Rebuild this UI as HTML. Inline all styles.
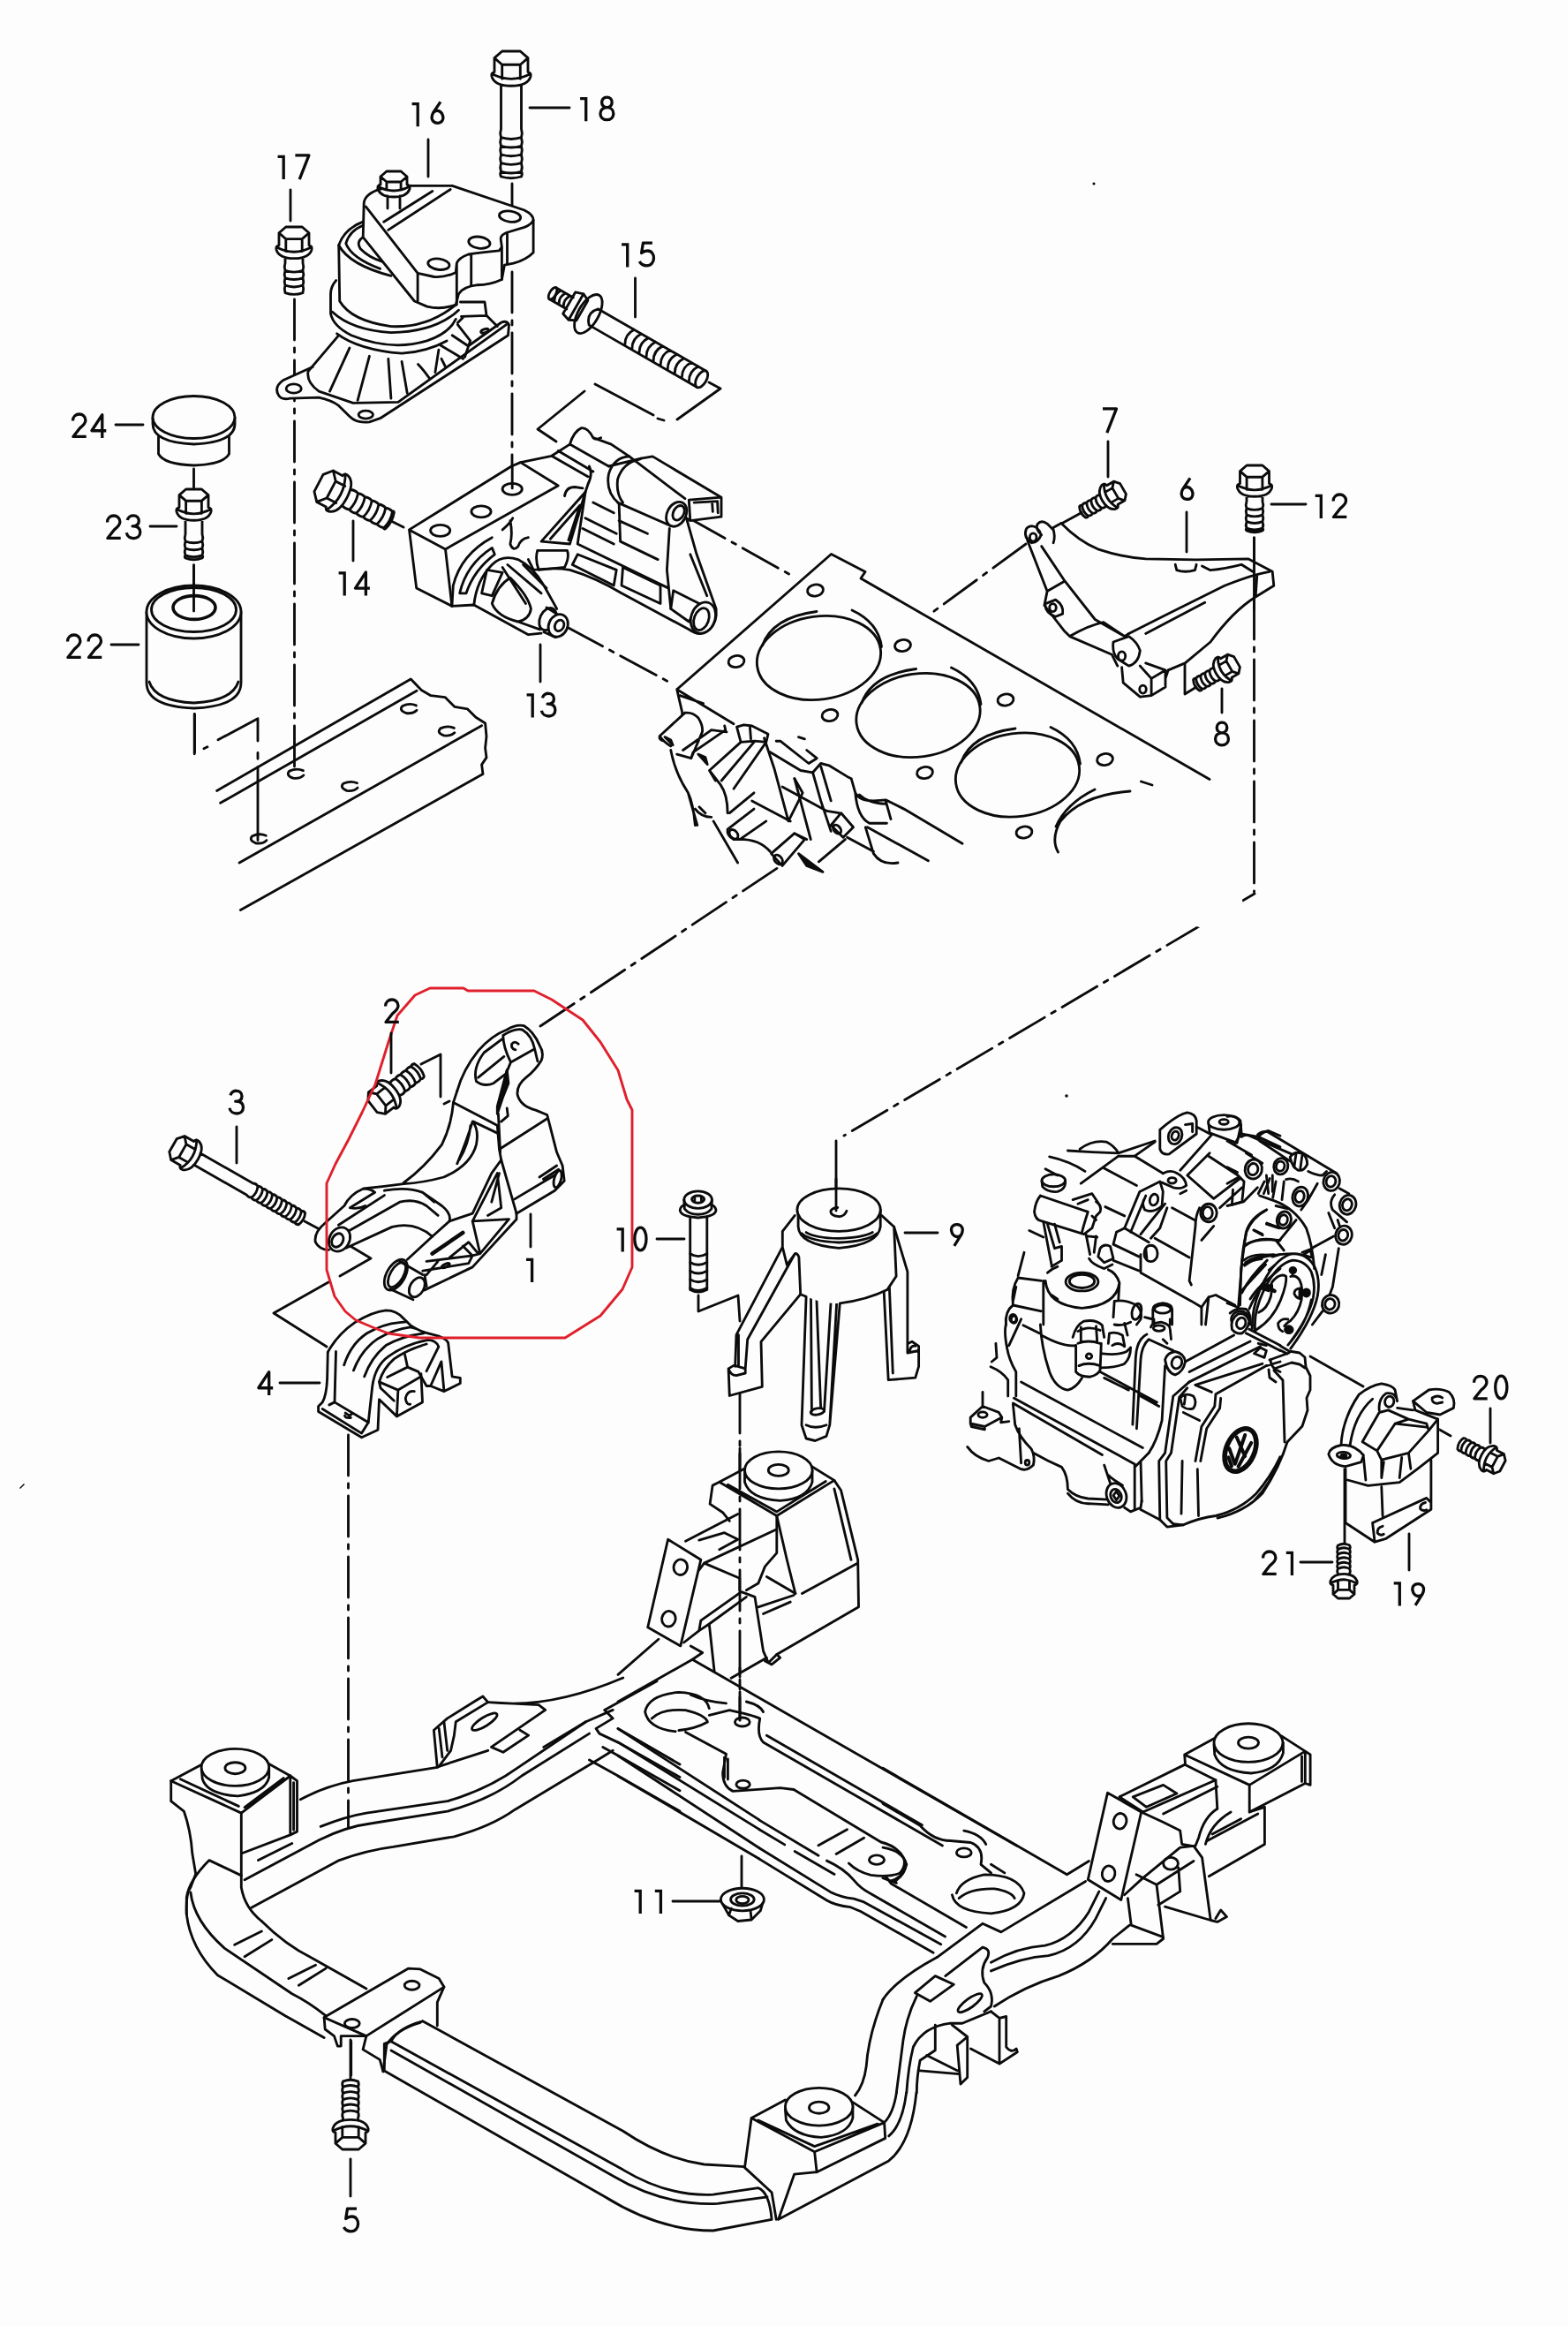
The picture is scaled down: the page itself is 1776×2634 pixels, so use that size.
<!DOCTYPE html>
<html><head><meta charset="utf-8"><title>Engine mounting</title>
<style>
html,body{margin:0;padding:0;background:#fcfdfc;}
body{width:1776px;height:2634px;overflow:hidden;font-family:"Liberation Sans",sans-serif;}
svg{display:block;position:absolute;left:0;top:0}
.k{fill:none;stroke:#0b0b0b;stroke-width:2.85;stroke-linecap:round;stroke-linejoin:round}
.k path,.k line,.k polyline,.k polygon,.k ellipse,.k circle,.k rect{vector-effect:none}
.w{fill:#fcfdfc}
.wf{fill:#fcfdfc;stroke:none}
.fk{fill:#0b0b0b}
.hv{stroke-width:4.5}
.t{fill:none;stroke:#0b0b0b;stroke-width:1.6;stroke-linecap:round;stroke-linejoin:round}
.dd{stroke-dasharray:46 9 5 9}
text{font-family:"Liberation Sans",sans-serif;font-size:40px;fill:#0b0b0b;stroke:none;text-anchor:middle}
</style></head><body>
<svg width="1776" height="2634" viewBox="0 0 1776 2634">
<rect x="0" y="0" width="1776" height="2634" fill="#fcfdfc"/>
<g class="k" id="center">
<path class="dd" d="M333.5,339V872"/>
<path d="M580,208V236"/>
<path class="dd" d="M580,308V552"/>
<path d="M803,433L816,440L767,475M740,470L674,435M662,443L609,486L630,500M752,476L745,474"/>
<path class="dd" d="M781,587L897,652"/>
<path class="dd" d="M1162,616L1054,695"/>
<path class="dd" d="M642,710L757,772"/>
<path class="dd" d="M1420.5,609V1010"/>
<path class="dd" d="M1421,1012L956,1286"/>
<path d="M947,1292V1369"/>
<path class="dd" d="M612,1162L885,980"/>
<path d="M345,1383L360,1391"/>
<path d="M395,1410L420,1425L385,1445M372,1452L310,1487L370,1525"/>
<path class="dd" d="M394.5,1625V2070"/>
<path d="M397,2310V2355"/>
<path d="M791,1467V1485L836,1467L838,1496"/>
<path class="dd" d="M838,1508V1948"/>
<path d="M1484,1536L1544,1570M1523,1653V1747M1627,1617L1643,1626M840,2102V2140"/>
<path d="M1226,580L1204,592M1342,751V786L1355,778M477,1205L499,1194V1242M503,1250L509,1247M443,590L457,597"/>
</g>

<g class="k" id="m16">
<path class="wf" d="M354.1,415.5 L320.4,430.8 Q310.2,438.0 315.3,447.1 Q318.4,453.3 328.6,451.2 L361.2,450.2 Q375.5,453.3 383.7,459.4 L395.9,471.6 Q404.1,479.8 418.4,477.8 L430.6,473.7 L575.5,379.8 L576.5,367.6 Q573.5,362.4 567.3,365.5 L531.6,391.0 L382.7,380.8Z"/>
<path d="M354.1,415.5 L320.4,430.8 Q310.2,438.0 315.3,447.1 Q318.4,453.3 328.6,451.2 L361.2,450.2 Q375.5,453.3 383.7,459.4 L395.9,471.6 Q404.1,479.8 418.4,477.8 L430.6,473.7 L575.5,379.8 L576.5,367.6 Q573.5,362.4 567.3,365.5 L531.6,391.0"/>
<path d="M382.7,380.8 L349.0,420.6 Q346.9,432.9 361.2,443.1 L400.0,456.3 L451.0,455.3 L573.5,367.6"/>
<path d="M395.9,394.1 L373.5,443.1 M418.4,403.3 L405.1,453.3 M439.8,406.3 L442.9,451.2 M455.1,409.4 L461.2,445.1 M473.5,412.4 Q479.6,418.6 486.7,428.8 M496.9,396.1 L492.9,421.6 M500.0,406.3 L504.1,414.5 M499.0,391.0 L524.5,406.3 M512.2,379.8 L530.6,392.0 M518.4,367.6 L532.7,385.9 L526.5,404.3"/>
<path d="M521.4,342.0 L549.0,342.0 L551.0,357.3 L522.4,358.4 M551.0,357.3 L563.3,369.6 M524.5,359.4 L518.4,365.5"/>
<ellipse cx="549.0" cy="374.7" rx="4.5" ry="2.0" transform="rotate(-20 549.0 374.7)"/>
<ellipse cx="332.7" cy="440.0" rx="8.6" ry="5.1"/>
<ellipse cx="414.3" cy="469.6" rx="8.2" ry="4.5"/>
<path class="w" d="M411.2,251.2 Q389.8,259.4 383.7,277.8 L384.7,341.0 Q398.0,363.5 442.9,369.6 Q483.7,371.6 516.3,345.1"/>
<path d="M411.2,255.3 Q395.9,261.4 391.8,275.7 Q398.0,292.0 430.6,304.3 M411.2,268.6 Q403.1,273.7 408.2,281.8 Q418.4,292.0 432.7,296.1 M383.7,277.8 Q395.9,300.2 442.9,312.4"/>
<path d="M380.6,317.6 Q374.5,324.7 374.5,332.9 L374.5,355.3 Q377.6,369.6 398.0,379.8 Q442.9,398.2 483.7,385.9 Q508.2,377.8 516.3,361.4 M376.5,353.3 Q398.0,373.7 442.9,376.7 Q493.9,375.7 519.4,351.2 M381.6,377.8 Q406.1,396.1 455.1,400.2 Q483.7,398.2 506.1,385.9"/>
<path class="w" d="M412.2,229.8 Q413.3,219.6 430.6,214.1 L463.3,210.4 L512.2,210.4 L593.9,238.0 Q604.1,243.1 604.1,249.2 L604.1,285.9 Q595.9,294.1 581.6,298.2 L571.4,300.2 L568.4,316.5 Q555.1,322.7 540.8,322.7 Q524.5,324.7 519.4,332.9 L516.3,345.1 Q500.0,351.2 483.7,347.1 L469.4,341.0 L411.2,268.6Z"/>
<path d="M604.1,249.2 Q602.0,254.3 593.9,257.3 L573.5,263.5 Q566.3,266.5 567.3,271.6 L568.4,279.8 L565.3,283.9 Q544.9,285.9 530.6,288.0 Q519.4,292.0 517.3,298.2 L516.3,308.4 Q504.1,314.5 491.8,313.5 L473.1,309.4 L414.3,233.9 M473.1,309.4 L473.1,341.0 M574.5,264.5 L574.5,298.2 M568.4,279.8 L568.4,316.5 M533.7,288.0 L533.7,322.7 M517.3,298.2 L517.3,345.1 M434.7,251.2 L489.8,216.5 M439.8,260.4 L510.2,214.5"/>
<ellipse cx="577.6" cy="245.1" rx="12.2" ry="6.1" transform="rotate(8 577.6 245.1)"/>
<ellipse cx="542.9" cy="274.7" rx="12.2" ry="6.5" transform="rotate(8 542.9 274.7)"/>
<ellipse cx="496.9" cy="299.2" rx="12.2" ry="6.1" transform="rotate(8 496.9 299.2)"/>
<g transform="translate(446,194) rotate(0.0)"><path class="w" stroke="none" d="M-15.0,6.0L-8.1,0L8.1,0L15.0,6.0V19.0L7.0,27.0V42.0H-7.0V27.0L-15.0,19.0Z"/><path d="M-15.0,6.0L-8.1,0L8.1,0L15.0,6.0L8.1,12.0L-8.1,12.0ZM-15.0,6.0V15.0M-8.1,12.0V21.0M8.1,12.0V21.0M15.0,6.0V15.0M-15.0,15.0Q-19.0,16.0 -18.0,20.0Q-15.0,29.0 0,29.0Q15.0,29.0 18.0,20.0Q19.0,16.0 15.0,15.0M-18.0,17.0Q0,27.0 18.0,17.0M-7.0,28.0V42.0M7.0,28.0V42.0"/></g>
</g>
<g class="k" id="left">
<path class="w" d="M179.5,495V514Q186,526 219.5,527Q253,526 259.5,514V495"/>
<path class="w" d="M173,473V480Q173,501 219.5,503Q266,501 266,480V473"/>
<ellipse class="w" cx="219.5" cy="472.5" rx="46.5" ry="24"/>
<path d="M219.5,531V552M219.5,640V690M220.5,809V852"/>
<path class="w" d="M166,693V773Q166,800 219.5,802Q273,800 273,773V693"/>
<ellipse class="w" cx="219.5" cy="693" rx="53.5" ry="30"/>
<ellipse cx="219.5" cy="690.5" rx="48" ry="25"/>
<ellipse cx="220" cy="688" rx="24" ry="13.4" style="stroke-width:3.6"/>
<path d="M169,772Q176,794 219.5,796Q263,794 270,772"/>
<path d="M219.5,640V692"/>
<path d="M245.6,895.4 L465.3,768.9 L477.3,781.5 L488.0,787.7 L504.1,789.6 L514.8,800.3 L529.6,802.9 L538.9,812.3 L549.6,819.0 L551.0,833.8 L549.6,847.1 L551.0,857.9 L545.6,865.9 L547.0,876.6 L272.4,1030.6 M249.6,909.3 L472.0,782.3 M271.1,977.1 L545.6,821.7"/>
<path d="M292.0,951.6 L292.0,868.6 M292.0,859.2 L292.0,852.5 M292.0,839.1 L292.0,813.7 L247.0,837.8 M234.9,845.8 L230.9,847.7 M220.2,808.3 L220.2,853.8"/>
<path d="M471.4,798.9 Q463.9,795.7 455.9,799.5 Q451.3,804.3 459.9,807.5 Q467.9,808.6 472.0,804.3"/>
<path d="M514.3,824.4 Q506.8,821.2 498.8,824.9 Q494.2,829.7 502.8,832.9 Q510.8,834.0 514.8,829.7"/>
<path d="M404.5,886.8 Q397.0,883.6 388.9,887.3 Q384.4,892.1 392.9,895.4 Q401.0,896.4 405.0,892.1"/>
<path d="M343.4,872.6 Q335.9,869.4 327.9,873.1 Q323.3,877.9 331.9,881.2 Q339.9,882.2 343.9,877.9"/>
<path d="M301.3,946.3 Q293.8,943.0 285.8,946.8 Q281.3,951.6 289.8,954.8 Q297.9,955.9 301.9,951.6"/>
</g>
<g class="k" id="m13">
<path class="wf" d="M463.5,599.9 L579.3,528.0 L589.6,523.6 L624.8,516.3 L645.4,503.1 Q649.8,488.4 658.6,484.6 Q665.9,484.0 671.8,495.7 L692.3,503.1 L712.8,516.9 L726.0,519.2 L739.2,516.9 L817.0,563.2 L817.0,585.2 L781.8,589.6 L811.1,689.4 Q812.6,704.0 803.8,712.8 L795.0,717.2 L780.3,712.8 L704.0,671.8 Q674.7,654.2 645.4,645.4 L627.8,689.4 L642.4,704.0 L633.6,721.6 L613.1,717.2 L598.4,718.7 L536.8,685.0 L511.9,686.4 L471.7,665.9Z"/>
<path d="M463.5,599.9 L579.3,528.0 L589.6,523.6 L632.2,550.0 L504.5,621.9 Z M463.5,599.9 L471.7,665.9 L511.9,686.4 L504.5,621.9"/>
<ellipse cx="498.7" cy="600.8" rx="11.1" ry="6.5"/>
<ellipse cx="545.0" cy="579.3" rx="11.1" ry="6.5"/>
<ellipse cx="580.2" cy="553.8" rx="11.1" ry="6.5"/>
<path d="M511.9,686.4 L513.3,663.0 Q522.1,627.8 557.3,608.7 M520.7,671.8 Q528.0,639.5 557.3,620.4 L560.3,627.8 Q536.8,645.4 528.0,671.8 Z M511.9,686.4 L536.8,685.0 L598.4,718.7 L613.1,717.2"/>
<path d="M536.8,685.0 Q539.7,657.1 557.3,639.5 Q569.1,627.8 586.7,633.6 Q604.3,642.4 616.0,663.0 L630.7,689.4 M569.1,642.4 L595.5,683.5 M574.9,639.5 L613.1,671.8 M592.6,639.5 L619.0,665.9 M557.3,683.5 Q563.2,698.2 586.7,704.0 Q599.9,701.1 601.4,689.4 Q598.4,674.7 577.9,654.2 Q563.2,663.0 557.3,683.5 M545.6,671.8 L551.5,645.4 L569.1,648.3 L557.3,674.7 Z M586.7,704.0 L611.6,712.8"/>
<ellipse cx="620.4" cy="701.1" rx="8.8" ry="13.2" transform="rotate(25 620.4 701.1)" class="w"/>
<path d="M619.0,687.9 L630.7,695.2 M616.0,715.8 L629.2,721.6"/>
<ellipse cx="632.2" cy="708.4" rx="10.6" ry="13.2" transform="rotate(25 632.2 708.4)" class="w"/>
<ellipse cx="633.6" cy="708.4" rx="5.0" ry="6.5" transform="rotate(25 633.6 708.4)"/>
<path d="M589.6,523.6 L624.8,516.3 L645.4,503.1 Q649.8,488.4 658.6,484.6 Q665.9,484.0 671.8,495.7 L692.3,503.1 L712.8,516.9 M624.8,516.3 L665.9,539.7 M632.2,510.4 L671.8,533.9 M645.4,503.1 L689.4,528.0 M667.4,528.0 Q671.8,536.8 665.9,548.5 L663.0,557.3 M639.5,561.7 Q641.0,551.5 651.2,551.5 L660.0,552.9 M671.8,495.7 Q674.7,498.7 680.6,495.7"/>
<path d="M569.1,599.9 Q577.9,592.6 580.8,586.7 M577.9,589.6 Q580.8,604.3 577.9,616.0 Q580.8,624.8 586.7,619.0 Q589.6,610.2 598.4,608.7"/>
<path d="M613.1,613.1 L663.0,557.3 L645.4,616.0 Z M623.4,610.2 L657.1,572.0 L643.9,611.6 M608.7,623.4 L642.4,623.4 Q645.4,630.7 639.5,642.4 L610.2,645.4 Q605.8,633.6 608.7,623.4 M654.2,627.8 L698.2,645.4 L695.2,663.0 L648.3,639.5 Z M705.5,642.4 L748.0,663.0 L748.0,683.5 L704.0,663.0 Z M762.7,668.8 L792.0,683.5 L780.3,704.0 L759.8,689.4 Z"/>
<path d="M663.0,557.3 L654.2,616.0 L756.8,665.9 M671.8,569.1 L695.2,580.8 M663.0,586.7 L698.2,604.3 M660.0,598.4 L695.2,616.0 M701.1,569.1 L702.6,613.1 L745.1,633.6 M701.1,589.6 L733.4,604.3 M758.3,598.4 L755.4,645.4 L759.8,689.4 M604.3,645.4 Q627.8,642.4 645.4,645.4 Q674.7,654.2 704.0,671.8 L780.3,712.8 Q789.1,718.7 795.0,717.2 M598.4,633.6 L604.3,645.4"/>
<path d="M777.4,586.7 L789.1,627.8 L811.1,689.4 Q812.6,704.0 803.8,712.8 M781.8,627.8 L800.8,674.7"/>
<ellipse cx="796.4" cy="699.6" rx="13.5" ry="18.2" transform="rotate(20 796.4 699.6)" class="w"/>
<ellipse cx="794.4" cy="701.1" rx="8.2" ry="12.9" transform="rotate(20 794.4 701.1)"/>
<path class="wf" d="M712.8,516.9 L775.9,564.7 L759.8,595.5 L699.6,569.1 Q685.0,557.3 688.8,536.8 Q695.2,517.7 712.8,516.9 Z"/>
<path d="M712.8,516.9 L775.9,564.7 M699.6,569.1 L759.8,595.5 M689.4,528.0 L726.0,519.2 M712.8,516.9 Q695.2,517.7 689.4,536.8 Q685.8,557.3 700.5,569.7 M725.2,519.8 Q705.5,523.6 699.6,542.7 Q697.6,558.8 705.5,569.1"/>
<ellipse cx="766.2" cy="582.3" rx="10.6" ry="14.7" transform="rotate(28 766.2 582.3)" class="w"/>
<ellipse cx="768.6" cy="580.8" rx="5.9" ry="8.8" transform="rotate(28 768.6 580.8)"/>
<path d="M726.0,519.2 L739.2,516.9 L817.0,563.2 L817.0,585.2 L781.8,589.6 L780.3,566.1 L817.0,563.2 M786.2,569.1 L812.6,567.6 L813.2,580.8 M806.7,570.5 L807.3,579.3 M781.8,589.6 L777.4,586.7"/>
<path d="M580.2,552.9 L580.2,528.0"/>
</g>
<g class="k" id="m6">
<path class="wf" d="M1163.8,599.4 L1202.0,592.4 Q1221.2,612.2 1243.5,621.8 Q1272.2,631.3 1297.7,632.9 L1355.1,633.9 L1414.1,632.9 L1441.2,647.3 L1442.8,663.2 L1422.1,676.0 Q1396.6,691.9 1371.0,727.0 L1342.3,750.9 L1320.0,778.0 L1291.3,789.2 L1272.2,773.2 L1259.4,741.3 L1205.2,714.2 L1182.9,685.5 L1186.1,669.6 Z"/>
<path d="M1202.0,592.4 Q1221.2,612.2 1243.5,621.8 Q1272.2,631.3 1297.7,632.9 L1355.1,633.9 L1414.1,632.9 L1441.2,647.3 L1442.8,663.2 L1422.1,676.0 Q1396.6,691.9 1371.0,727.0 L1342.3,750.9 L1323.2,758.9 M1423.7,652.1 L1422.1,676.0 M1278.6,717.4 L1323.2,695.1 L1387.0,663.2 Q1418.9,650.5 1438.0,647.3 M1297.7,717.4 L1364.7,682.3"/>
<path d="M1331.2,639.3 L1332.8,645.7 Q1342.3,648.9 1353.5,645.7 L1355.1,639.3 M1361.5,640.9 L1371.0,645.7 Q1387.0,644.1 1406.1,639.3 L1418.9,647.3"/>
<path d="M1163.8,612.2 L1186.1,669.6 L1182.9,685.5 L1205.2,714.2 L1211.6,720.6 L1259.4,741.3 L1265.8,754.1 M1179.7,618.6 L1205.2,656.8 L1240.3,701.5 L1273.8,720.6 L1278.6,717.4 M1186.1,669.6 L1205.2,658.4 M1211.6,720.6 Q1233.9,707.9 1249.9,704.7 L1273.8,720.6"/>
<path d="M1202.0,592.4 L1192.5,597.8 Q1195.7,607.4 1193.1,614.7 M1174.9,593.7 Q1179.7,588.3 1186.1,593.1 L1192.5,599.4 M1162.2,599.4 Q1159.0,609.0 1168.6,614.7 Q1176.5,613.8 1179.1,605.8 Q1176.5,596.2 1168.6,595.6 Q1163.8,596.2 1162.2,599.4 M1174.9,593.7 Q1172.7,599.4 1179.7,605.8"/>
<ellipse cx="1170.2" cy="608.4" rx="3.8" ry="4.5"/>
<path d="M1183.5,683.9 Q1184.5,695.1 1195.7,698.3 L1203.6,695.1 Q1205.2,685.5 1195.7,679.2 Z"/>
<ellipse cx="1192.5" cy="688.1" rx="3.8" ry="4.5"/>
<path class="w" d="M1261.0,727.0 Q1259.4,739.7 1265.8,746.1 L1278.6,754.1 Q1289.7,750.9 1291.3,736.6 Q1288.1,727.0 1278.6,720.6 Z"/>
<ellipse cx="1270.6" cy="742.9" rx="4.1" ry="5.1"/>
<path d="M1270.6,755.7 L1272.2,773.2 L1291.3,789.2 L1304.1,787.6 L1320.0,778.0 L1320.0,758.9 L1297.7,750.9 M1291.3,754.1 L1304.1,768.4 L1320.0,758.9 M1304.1,768.4 L1304.1,787.6 M1323.2,758.9 L1320.0,768.4"/>
<ellipse cx="1294.5" cy="780.6" rx="3.8" ry="4.5"/>
</g>
<g class="k" id="block">
<path class="wf" d="M941.5,627.5 L980.0,647.5 L975.0,655.0 L1370.0,882.5 L1420.0,1067.5 L1140.0,987.5 L965.0,895.0 L767.5,780.0Z"/>
<path d="M767.5,780.0 L941.5,627.5 L980.0,647.5 L975.0,655.0 L1370.0,882.5"/>
<ellipse cx="927.5" cy="745.0" rx="70.5" ry="47.0" transform="rotate(-8 927.5 745.0)"/>
<path d="M863.5,731.0 Q875.0,699.0 925.0,692.5 M965.0,691.0 Q995.0,705.0 998.5,732.5"/>
<ellipse cx="1040.0" cy="810.0" rx="70.5" ry="47.0" transform="rotate(-8 1040.0 810.0)"/>
<path d="M976.0,796.0 Q987.5,764.0 1037.5,757.5 M1077.5,756.0 Q1107.5,770.0 1111.0,797.5"/>
<ellipse cx="1152.5" cy="877.5" rx="70.5" ry="47.0" transform="rotate(-8 1152.5 877.5)"/>
<path d="M1088.5,863.5 Q1100.0,831.5 1150.0,825.0 M1190.0,823.5 Q1220.0,837.5 1223.5,865.0"/>
<path d="M1280.0,896.0 Q1225.0,900.0 1201.0,930.0 Q1190.0,950.0 1198.5,965.0 M1240.0,894.0 Q1207.5,910.0 1196.0,936.0 M1292.5,885.0 L1305.0,889.0"/>
<ellipse cx="923.5" cy="668.5" rx="9.0" ry="6.5" transform="rotate(-10 923.5 668.5)"/>
<ellipse cx="1022.5" cy="731.0" rx="9.0" ry="6.5" transform="rotate(-10 1022.5 731.0)"/>
<ellipse cx="1139.0" cy="792.5" rx="9.0" ry="6.5" transform="rotate(-10 1139.0 792.5)"/>
<ellipse cx="1251.5" cy="860.0" rx="9.0" ry="6.5" transform="rotate(-10 1251.5 860.0)"/>
<ellipse cx="834.0" cy="749.0" rx="9.0" ry="6.5" transform="rotate(-10 834.0 749.0)"/>
<ellipse cx="940.0" cy="810.0" rx="9.0" ry="6.5" transform="rotate(-10 940.0 810.0)"/>
<ellipse cx="1047.5" cy="875.0" rx="9.0" ry="6.5" transform="rotate(-10 1047.5 875.0)"/>
<ellipse cx="1160.0" cy="942.5" rx="9.0" ry="6.5" transform="rotate(-10 1160.0 942.5)"/>
<path d="M766.7,780.7 L831.0,819.7 M770.2,787.6 L796.6,796.7 M766.7,780.7 L772.5,805.9"/>
<path d="M772.5,808.2 Q782.8,804.8 790.8,812.8 Q796.6,822.0 795.4,828.9 M775.9,807.1 L747.2,833.5 M795.4,828.9 L782.8,858.7 M747.2,833.5 Q751.8,840.4 759.8,844.9 M766.7,854.1 L782.8,858.7 L785.1,851.8 M773.6,849.5 L805.8,826.6 M785.1,851.8 L821.8,826.6 L820.7,822.0 M805.8,826.6 L823.0,828.9 M747.2,833.5 Q746.1,838.1 751.8,839.2"/>
<path class="fk" d="M753.0,834.6 L759.8,838.1 L762.1,843.8 Z"/>
<path class="fk" d="M790.8,854.1 L798.9,857.6 L801.2,865.6 Z"/>
<path d="M759.8,849.5 Q764.4,874.8 779.4,897.8 Q785.1,909.2 787.4,934.5 M779.4,897.8 L789.7,934.5 M787.4,916.1 Q794.3,925.3 805.8,925.3 M792.0,913.8 L798.9,920.7 M808.1,929.9 L835.6,977.0"/>
<path d="M834.5,823.1 L842.5,820.8 L851.7,822.0 L870.0,831.2 L867.8,840.4 L855.1,839.2 L839.1,840.4 Z M849.4,823.1 L850.5,836.9 M839.1,840.4 L803.5,872.5 L816.1,888.6 M855.1,839.2 L817.2,884.0 M867.8,840.4 L831.0,893.2 M803.5,872.5 L810.4,884.0 M816.1,888.6 Q824.1,900.0 824.1,920.7 M826.4,920.7 L854.0,897.8"/>
<path d="M865.5,835.8 L876.9,870.2 L893.0,929.9 L909.1,897.8 L899.9,881.7 M879.2,839.2 L883.8,839.2 L916.0,864.5 L925.2,858.7 L913.7,849.5 M904.5,834.6 L911.4,836.9"/>
<path d="M872.3,851.8 L906.8,872.5 L920.6,874.8 L929.7,864.5 L938.9,866.8 L959.6,879.4 L964.2,881.7 L968.8,897.8 Q973.4,906.9 989.4,906.9 L1003.2,905.8 L1023.9,916.1 L1090.0,955.2 M1003.2,906.9 L1009.0,927.6 M973.4,900.0 Q982.5,909.2 1003.2,910.4 M968.8,897.8 Q971.1,925.3 984.8,932.2 L1004.4,932.2"/>
<path d="M920.6,874.8 L929.7,906.9 L941.2,941.4 M929.7,867.9 L941.2,906.9 M886.1,890.9 L936.6,918.4 L950.4,920.7 M899.9,881.7 L918.3,950.6 M851.7,906.9 L895.3,929.9"/>
<path d="M824.1,939.1 L854.0,916.1 M837.9,950.6 L867.8,929.9 M831.0,950.6 Q858.6,948.3 872.3,964.3 M824.1,939.1 Q823.0,946.0 831.0,950.6"/>
<ellipse cx="831.0" cy="944.8" rx="4.1" ry="6.0" transform="rotate(-40 831.0 944.8)"/>
<path class="w" d="M873.5,966.6 L899.9,943.7 L911.4,950.6 L886.1,980.4 Z M899.9,943.7 L913.7,950.6"/>
<ellipse cx="881.5" cy="973.5" rx="4.1" ry="6.0" transform="rotate(-40 881.5 973.5)"/>
<path class="fk" d="M904.5,966.6 L932.0,987.3 L913.7,980.4 Z"/>
<path d="M927.4,975.8 L957.3,950.6 M941.2,934.5 L952.7,920.7 L966.5,936.8 L955.0,948.3 Z M959.6,948.3 L989.4,964.3 M980.3,936.8 L989.4,966.6 Q998.6,980.4 1017.0,977.0 M982.5,936.8 L1051.4,974.7"/>
<ellipse cx="948.1" cy="939.1" rx="3.7" ry="5.5" transform="rotate(-40 948.1 939.1)"/>
</g>
<g class="k" id="m1">
<path class="wf" d="M517.8,1235.4 Q524.3,1211.6 541.7,1189.9 Q556.8,1172.5 574.2,1166.0 Q585.0,1159.5 593.7,1161.7 Q604.5,1168.2 611.0,1183.4 Q616.5,1192.0 613.2,1200.7 Q606.7,1211.6 595.9,1220.2 Q585.0,1228.9 586.1,1239.7 Q589.4,1252.8 606.7,1257.1 L619.7,1262.5 L630.6,1304.8 L637.1,1320.0 L639.2,1337.3 L628.4,1348.2 L585.0,1374.2 L585.0,1380.7 L535.2,1434.9 L480.9,1460.9 L470.1,1469.6 L452.8,1467.4 Q437.6,1460.9 437.6,1443.6 L461.4,1426.2 L489.6,1400.2 Q470.1,1382.9 444.1,1389.4 L392.0,1413.2 L372.5,1415.4 Q361.7,1415.4 357.3,1406.7 Q355.2,1395.9 368.2,1385.0 L389.9,1365.5 Q396.4,1352.5 411.6,1346.0 L457.1,1339.5 Q480.9,1322.1 500.5,1296.1 Q511.3,1274.4 513.5,1248.4Z"/>
<path d="M517.8,1235.4 Q524.3,1211.6 541.7,1189.9 Q556.8,1172.5 574.2,1166.0 Q585.0,1159.5 593.7,1161.7 Q604.5,1168.2 611.0,1183.4 Q616.5,1192.0 613.2,1200.7 Q606.7,1211.6 595.9,1220.2 Q585.0,1228.9 586.1,1239.7 Q589.4,1252.8 606.7,1257.1 L619.7,1262.5 L630.6,1304.8 L637.1,1320.0 L639.2,1337.3 L628.4,1348.2 L585.0,1374.2"/>
<path d="M569.8,1172.5 Q582.9,1163.9 591.5,1166.0 Q602.4,1172.5 605.6,1187.7 L578.5,1202.9 Q569.8,1185.5 569.8,1172.5 M605.6,1187.7 L608.9,1201.8 M548.2,1192.0 Q535.2,1209.4 539.5,1224.6 Q548.2,1231.1 559.0,1226.7 L573.1,1215.9 L578.5,1202.9 M548.2,1192.0 L569.8,1175.8 M541.7,1220.2 L570.9,1196.4"/>
<path d="M587.2,1182.3 Q582.9,1177.9 579.6,1182.3 Q578.5,1187.7 583.9,1188.8"/>
<path d="M517.8,1235.4 L513.5,1248.4 L563.3,1274.4 M565.5,1301.5 L619.7,1266.8 M563.3,1274.4 L565.5,1301.5 L567.7,1313.5 L585.0,1374.2"/>
<path class="fk" d="M574.2,1211.6 L563.3,1252.8 L563.3,1261.4 L569.8,1241.9 L575.9,1226.7 Z"/>
<path d="M574.2,1254.9 L575.3,1263.6 L567.7,1270.1 M564.4,1261.4 L566.6,1304.8"/>
<path d="M611.0,1333.0 L630.6,1320.0 M615.4,1335.2 L632.7,1324.3 M582.9,1357.9 L628.4,1330.8"/>
<ellipse cx="631.6" cy="1335.2" rx="3.9" ry="9.8" transform="rotate(15 631.6 1335.2)"/>
<path d="M513.5,1248.4 Q511.3,1274.4 500.5,1296.1 Q480.9,1322.1 457.1,1339.5 M535.2,1270.1 Q542.7,1278.8 539.5,1296.1 Q533.0,1320.0 502.6,1333.0 Q478.8,1339.5 457.1,1340.6 M536.2,1270.1 L563.3,1283.1 M535.2,1270.1 Q528.6,1291.8 517.8,1317.8 M533.0,1274.4 Q530.8,1296.1 520.0,1313.5"/>
<path d="M457.1,1340.6 Q433.2,1343.8 411.6,1346.0 Q396.4,1352.5 389.9,1365.5 L368.2,1385.0 Q355.2,1395.9 357.3,1406.7 Q361.7,1415.4 372.5,1415.4 M411.6,1346.0 Q420.2,1346.0 424.6,1350.3 L396.4,1367.7 Q405.1,1369.8 413.7,1365.5 M435.4,1348.2 Q461.4,1343.8 478.8,1350.3 L500.5,1365.5 Q511.3,1374.2 509.1,1382.9 L489.6,1400.2 M383.4,1387.2 L435.4,1353.6 M395.3,1393.7 L452.8,1361.2 Q470.1,1356.8 483.1,1365.5 L496.1,1376.4 M392.0,1413.2 L444.1,1389.4 Q470.1,1382.9 489.6,1400.2 M478.8,1350.3 L491.8,1361.2"/>
<ellipse cx="384.5" cy="1403.5" rx="11.3" ry="14.3" transform="rotate(30 384.5 1403.5)" class="w"/>
<ellipse cx="382.3" cy="1404.5" rx="6.1" ry="8.2" transform="rotate(30 382.3 1404.5)"/>
<path d="M489.6,1400.2 L461.4,1426.2 M480.9,1460.9 L535.2,1434.9 L585.0,1380.7 L585.0,1374.2 M480.9,1443.6 L483.1,1456.6"/>
<ellipse cx="448.4" cy="1443.6" rx="10.4" ry="19.1" transform="rotate(30 448.4 1443.6)" class="w"/>
<ellipse cx="449.5" cy="1443.6" rx="7.4" ry="15.6" transform="rotate(30 449.5 1443.6)"/>
<path d="M452.8,1428.4 L478.8,1443.6 M441.9,1459.8 L467.9,1471.8"/>
<ellipse cx="472.3" cy="1457.7" rx="7.8" ry="11.9" transform="rotate(30 472.3 1457.7)" class="w"/>
<path d="M509.1,1382.9 L535.2,1374.2 L556.8,1328.6 L567.7,1313.5 M535.2,1382.9 L576.4,1380.7 M535.2,1382.9 L543.8,1419.7 L576.4,1380.7 M535.2,1382.9 L563.3,1328.6 L567.7,1367.7 L552.5,1376.4 M556.8,1361.2 L565.5,1328.6 M483.1,1428.4 L535.2,1421.9 L543.8,1419.7 M509.1,1424.1 L530.8,1406.7 L541.7,1419.7 M478.8,1439.2 L530.8,1430.6 L535.2,1421.9 M524.3,1411.0 L535.2,1421.9 M496.1,1428.4 L483.1,1443.6"/>
<path class="hv" d="M489.6,1419.7 L524.3,1395.9"/>
<ellipse cx="504.8" cy="1433.2" rx="4.8" ry="1.7" transform="rotate(-25 504.8 1433.2)"/>
</g>
<g class="k" id="m4">
<path class="wf" d="M371.3,1531.2 Q382.0,1511.3 401.9,1497.6 Q421.8,1485.3 437.1,1483.8 Q449.4,1483.8 457.0,1493.0 L464.7,1500.6 Q475.4,1508.3 490.7,1511.3 Q504.5,1514.4 507.6,1520.5 L512.1,1558.8 L521.3,1560.3 L521.3,1566.4 L503.0,1575.6 L487.7,1569.5 L478.5,1587.9 L449.4,1603.9 L429.5,1584.8 L428.0,1619.2 L409.6,1627.7 L360.6,1598.6 L360.6,1592.4 L365.2,1587.9 Q369.8,1580.2 370.6,1561.8Z"/>
<path d="M371.3,1531.2 Q382.0,1511.3 401.9,1497.6 Q421.8,1485.3 437.1,1483.8 Q449.4,1483.8 457.0,1493.0 L464.7,1500.6 Q475.4,1508.3 490.7,1511.3 Q504.5,1514.4 507.6,1520.5 L512.1,1558.8 L521.3,1560.3 L521.3,1566.4 L503.0,1575.6 L487.7,1569.5 L499.9,1541.9 L503.0,1575.6"/>
<path d="M371.3,1531.2 L370.6,1561.8 Q369.8,1580.2 365.2,1587.9 L360.6,1592.4 L360.6,1598.6 L409.6,1627.7 L428.0,1619.2 L429.5,1584.8 L449.4,1603.9 L478.5,1587.9 L476.9,1555.7"/>
<path d="M380.5,1530.5 L379.0,1587.9 L417.2,1610.8 L409.6,1623.1 L365.2,1595.5 M372.9,1590.9 L379.0,1587.9 M391.2,1600.1 L395.8,1603.2 L398.9,1600.9 M390.5,1603.2 Q391.2,1606.2 397.3,1605.5"/>
<path d="M417.2,1610.8 L421.8,1569.5 Q424.9,1546.5 440.2,1535.8 Q460.1,1522.0 484.6,1517.4 Q493.8,1517.4 496.8,1525.1 L483.1,1552.7"/>
<path d="M389.7,1545.8 Q397.3,1522.0 415.7,1509.8 Q434.1,1499.1 452.4,1497.6 L460.1,1496.8 M400.4,1551.9 Q409.6,1528.2 428.0,1515.9 Q446.3,1505.2 464.7,1502.9 L470.8,1504.4 M412.7,1558.8 Q420.3,1537.3 437.1,1523.6 Q455.5,1512.9 480.0,1509.8 M429.5,1564.9 Q434.1,1549.6 446.3,1538.9 Q461.6,1528.2 483.1,1522.0"/>
<path d="M429.5,1564.9 L450.9,1574.1 L476.9,1558.8 L473.9,1553.4 L461.6,1548.1 L438.7,1559.5 M450.9,1574.1 L449.4,1603.9 M429.5,1564.9 L431.0,1571.8 L446.3,1586.3 M461.6,1548.1 L458.6,1534.3 M469.3,1575.6 Q461.6,1574.1 459.3,1583.3 Q460.1,1590.9 464.7,1590.2 M476.9,1558.8 L483.1,1569.5 L487.7,1569.5"/>
</g>
<g class="k" id="m9">
<path class="wf" d="M886.3,1412.1 L834.0,1511.6 L832.7,1547.3 L825.1,1549.9 L826.3,1580.5 L863.3,1570.3 L862.0,1519.3 L906.7,1465.7 L913.1,1468.3 L908.0,1613.7 L913.1,1629.0 L923.3,1631.5 L936.0,1626.4 L939.8,1613.7 L951.3,1475.9 L1001.1,1460.6 L1006.2,1562.7 L1036.8,1560.1 L1040.6,1547.3 L1040.6,1524.4 L1033.0,1519.3 L1027.9,1521.8 L1027.9,1440.2 L1012.6,1389.2 L998.5,1376.4 L900.3,1376.4 Z"/>
<path d="M886.3,1412.1 L834.0,1511.6 L832.7,1547.3 M900.3,1419.8 L846.7,1516.7 L844.2,1549.9 M906.7,1465.7 L862.0,1519.3 L863.3,1570.3 L826.3,1580.5 L825.1,1549.9 L831.4,1546.1 L844.2,1549.9 L844.2,1555.0 L834.0,1557.6 M825.1,1549.9 Q827.6,1557.6 834.0,1557.6 M836.5,1511.6 L836.5,1547.3"/>
<path d="M913.1,1468.3 L908.0,1613.7 L913.1,1629.0 L923.3,1631.5 L936.0,1626.4 L939.8,1613.7 L951.3,1475.9 M918.2,1428.7 L919.4,1598.4 M923.3,1428.7 L929.6,1593.3 M943.7,1431.3 L933.5,1598.4 M950.1,1432.6 L939.8,1613.7 M913.1,1613.7 Q923.3,1618.8 936.0,1613.7"/>
<ellipse cx="925.8" cy="1598.4" rx="7.7" ry="3.6" transform="rotate(-10 925.8 1598.4)"/>
<path d="M1012.6,1389.2 L1027.9,1440.2 L1027.9,1532.0 M1001.1,1460.6 L1006.2,1562.7 L1036.8,1560.1 L1040.6,1547.3 L1040.6,1524.4 L1033.0,1519.3 L1027.9,1521.8 M1007.4,1458.1 L1011.3,1555.0 M1027.9,1532.0 L1040.6,1529.5 M1030.4,1529.5 Q1031.7,1523.1 1036.8,1524.4"/>
<path class="wf" d="M900.3,1376.4 L886.3,1394.3 L886.3,1412.1 L891.4,1432.6 L900.3,1419.8 L904.1,1422.3 L906.7,1465.7 L913.1,1468.3 Q933.5,1477.2 951.3,1475.9 Q981.9,1472.1 1004.9,1460.6 L1015.1,1445.3 L1012.6,1389.2 L998.5,1376.4 Z"/>
<path d="M900.3,1376.4 L886.3,1394.3 L886.3,1412.1 L891.4,1432.6 L900.3,1419.8 Q902.9,1418.5 904.9,1423.6 L906.7,1465.7 L913.1,1468.3 M951.3,1475.9 Q981.9,1472.1 1004.9,1460.6 L1015.1,1445.3 L1012.6,1389.2 L998.5,1376.4"/>
<path class="w" d="M904.1,1370.1 L904.1,1389.2 Q905.4,1409.6 950.1,1413.4 Q994.7,1409.6 997.2,1389.2 L997.2,1370.1"/>
<path d="M908.0,1396.8 Q918.2,1405.8 950.1,1407.0 Q981.9,1405.8 993.4,1396.8 M913.1,1395.6 Q923.3,1401.9 950.1,1402.4 Q976.8,1401.9 988.3,1395.6"/>
<ellipse cx="950.1" cy="1370.1" rx="47.2" ry="24.2" class="w"/>
<path d="M959.0,1371.3 Q956.4,1377.7 950.1,1377.7 Q939.8,1376.4 941.1,1370.8 Q943.7,1367.5 948.8,1367.5"/>
</g>
<g class="k" id="b10">
<path class="w" d="M770.2,1370.1 Q770.2,1377.7 790.6,1379.0 Q811.0,1377.7 811.0,1370.1 Q809.7,1364.9 804.6,1364.2 M776.6,1364.2 Q770.7,1365.7 770.2,1370.1 M781.7,1379.0 L781.7,1460.6 Q790.6,1465.7 800.8,1460.6 L800.8,1379.0"/>
<ellipse cx="790.6" cy="1358.6" rx="15.8" ry="9.7" class="w"/>
<path d="M774.8,1358.6 L775.3,1368.8 Q780.4,1375.2 790.6,1375.2 Q800.8,1375.2 805.9,1368.8 L806.4,1358.6"/>
<ellipse cx="790.6" cy="1358.1" rx="7.1" ry="4.1"/>
<path d="M786.8,1356.0 L786.8,1359.8 M794.4,1356.0 L794.4,1359.8"/>
<path d="M781.7,1419.8 Q790.6,1425.4 800.8,1419.8 M781.7,1429.5 Q790.6,1435.1 800.8,1429.5 M781.7,1439.2 Q790.6,1444.8 800.8,1439.2 M781.7,1448.9 Q790.6,1454.5 800.8,1448.9 M781.7,1458.6 Q790.6,1464.2 800.8,1458.6"/>
</g>
<g class="k" id="tr1">
<path d="M1209.4,1303.0 L1236.9,1304.6 L1266.8,1305.8 M1223.2,1301.2 Q1236.9,1290.8 1253.0,1293.1 Q1262.2,1297.7 1266.8,1305.8 M1266.8,1305.8 L1308.1,1292.0 M1188.7,1309.9 Q1211.7,1314.9 1228.9,1326.4 M1184.1,1323.7 L1197.9,1331.0"/>
<path d="M1180.0,1337.4 L1180.7,1343.6 Q1186.4,1350.5 1197.9,1349.4 Q1205.9,1347.1 1206.6,1340.2 L1206.6,1336.8"/>
<ellipse cx="1193.3" cy="1336.8" rx="13.3" ry="6.9"/>
<path d="M1178.4,1354.0 Q1172.7,1360.9 1171.5,1372.3 Q1172.7,1381.5 1179.5,1382.7 L1227.8,1397.6 L1236.9,1390.7 L1241.5,1376.9 L1246.1,1372.3 Q1248.4,1365.5 1241.5,1360.9 M1178.4,1354.0 L1232.3,1372.3 M1215.1,1358.6 L1236.9,1351.7 L1246.1,1365.5 M1220.9,1363.2 L1232.3,1358.6 M1232.3,1372.3 Q1227.8,1386.1 1225.5,1395.3 M1236.9,1376.9 L1241.5,1381.5"/>
<path d="M1181.8,1383.8 L1191.0,1432.0 M1186.4,1386.1 L1194.5,1413.7 L1202.5,1411.4 L1202.5,1427.4 L1191.0,1434.3 M1194.5,1386.1 L1200.2,1406.8 M1230.0,1397.6 L1234.6,1420.6 M1241.5,1399.9 L1239.2,1418.3 M1232.3,1399.9 L1242.7,1401.0 M1165.8,1393.5 L1181.8,1401.0 M1160.0,1418.3 L1153.1,1444.7"/>
<path d="M1246.1,1413.7 Q1250.7,1407.9 1257.6,1411.4 L1261.0,1425.2 L1250.7,1429.7 L1243.8,1422.9 Z M1233.5,1425.2 Q1236.9,1432.0 1250.7,1436.6 L1259.9,1432.0"/>
<path d="M1184.1,1450.4 Q1186.4,1478.0 1225.5,1481.4 Q1264.5,1478.0 1267.9,1452.7 Q1264.5,1441.2 1255.3,1437.8 M1186.4,1441.2 Q1191.0,1436.6 1197.9,1434.3 M1181.8,1450.4 L1181.8,1500.0 M1267.9,1452.7 L1266.8,1471.1 M1191.0,1466.5 L1197.9,1471.1"/>
<ellipse cx="1225.5" cy="1451.6" rx="18.4" ry="10.3"/>
<ellipse cx="1225.5" cy="1450.9" rx="14.2" ry="7.6"/>
<path d="M1153.1,1447.0 L1179.5,1450.4 M1153.1,1447.0 Q1145.1,1459.6 1147.4,1478.0 L1179.5,1484.8 M1147.4,1478.0 Q1138.2,1484.8 1139.4,1500.0 M1150.8,1457.3 L1147.4,1473.4"/>
<ellipse cx="1147.4" cy="1492.9" rx="3.7" ry="4.6"/>
<path d="M1262.2,1473.4 Q1273.7,1471.1 1287.4,1478.0 Q1294.3,1484.8 1292.0,1494.0 L1287.4,1500.0 M1262.2,1473.4 L1261.0,1491.7 M1305.8,1482.5 Q1305.8,1476.8 1317.3,1475.7 Q1327.6,1476.8 1327.6,1482.5 L1327.6,1500.0 M1305.8,1482.5 L1305.8,1500.0 M1296.6,1491.7 L1305.8,1494.0"/>
<ellipse cx="1287.4" cy="1485.3" rx="5.1" ry="9.2" transform="rotate(15 1287.4 1485.3)"/>
<ellipse cx="1316.8" cy="1482.5" rx="9.2" ry="4.6"/>
<path d="M1224.3,1340.2 L1266.8,1309.2 L1285.2,1309.2 L1317.3,1328.7 M1250.7,1323.0 L1287.4,1342.5 M1285.2,1309.2 L1308.1,1293.1"/>
<path class="w" d="M1313.8,1279.4 Q1333.4,1262.1 1344.8,1259.8 Q1354.0,1261.0 1355.2,1269.0 L1355.2,1284.0 L1324.2,1306.9 Q1316.1,1308.1 1313.8,1301.2 Z"/>
<ellipse cx="1331.1" cy="1286.2" rx="7.6" ry="9.6" transform="rotate(20 1331.1 1286.2)"/>
<ellipse cx="1331.1" cy="1286.2" rx="3.9" ry="5.1" transform="rotate(20 1331.1 1286.2)"/>
<path d="M1342.5,1273.6 L1350.6,1272.5 L1350.6,1281.7 M1355.2,1275.9 L1372.4,1285.1"/>
<path d="M1369.0,1272.5 L1370.1,1282.8 L1401.1,1294.3 L1405.7,1273.6 M1405.7,1284.0 L1425.2,1287.4 L1450.0,1298.9 M1425.2,1287.4 Q1429.8,1281.7 1436.7,1280.5 L1450.0,1286.2"/>
<ellipse cx="1386.2" cy="1270.9" rx="17.7" ry="8.3" class="w"/>
<ellipse cx="1386.2" cy="1270.4" rx="5.1" ry="2.8"/>
<path d="M1372.4,1285.1 L1336.8,1325.3 M1370.1,1305.8 L1344.8,1331.0 M1369.0,1309.2 L1402.2,1331.0 M1344.8,1331.0 L1374.7,1357.4 L1404.5,1334.5 M1402.2,1331.0 L1409.1,1337.9 L1406.8,1360.9 L1395.4,1364.3 L1396.5,1347.1 M1381.6,1367.8 L1406.8,1344.8"/>
<path d="M1317.3,1328.7 Q1326.5,1324.1 1333.4,1328.7 Q1342.5,1333.3 1343.7,1342.5 Q1338.0,1347.1 1328.8,1344.8 L1316.1,1339.1 M1336.8,1351.7 L1343.7,1348.2"/>
<ellipse cx="1327.6" cy="1336.8" rx="4.6" ry="3.2"/>
<path d="M1290.9,1349.4 L1313.8,1337.9 L1317.3,1349.4 L1316.1,1365.5 Q1305.8,1374.6 1296.6,1370.0 Q1293.2,1363.2 1295.5,1358.6 M1290.9,1349.4 L1273.7,1390.7 M1297.8,1354.0 L1280.6,1395.3"/>
<ellipse cx="1307.0" cy="1358.6" rx="4.6" ry="6.4" transform="rotate(15 1307.0 1358.6)"/>
<path d="M1264.5,1395.3 L1273.7,1390.7 L1301.2,1406.8 M1264.5,1395.3 L1261.0,1409.1 L1289.7,1422.9 M1292.0,1420.6 L1292.0,1441.2 L1349.4,1473.4 L1360.9,1480.3 M1261.0,1427.4 L1289.7,1438.9"/>
<path d="M1319.6,1363.2 L1304.7,1381.5 L1292.0,1397.6 M1321.9,1367.8 L1313.8,1390.7 L1303.5,1402.2 M1251.9,1366.6 L1273.7,1376.9 M1327.6,1367.8 L1352.9,1381.5 M1308.1,1402.2 L1347.1,1424.0"/>
<ellipse cx="1369.0" cy="1373.5" rx="9.2" ry="10.3"/>
<ellipse cx="1367.8" cy="1373.5" rx="5.5" ry="6.9"/>
<path d="M1358.6,1367.8 Q1354.0,1376.9 1354.0,1388.4 L1347.1,1450.4 L1349.4,1455.0 M1374.7,1388.4 L1360.9,1404.5"/>
<ellipse cx="1303.5" cy="1419.4" rx="7.6" ry="9.2"/>
<path d="M1297.8,1413.7 L1298.9,1425.2"/>
<ellipse cx="1419.5" cy="1323.0" rx="8.7" ry="9.6"/>
<ellipse cx="1418.8" cy="1323.0" rx="5.1" ry="6.0"/>
<path d="M1411.4,1305.8 L1429.8,1317.2 M1434.4,1331.0 L1436.7,1351.7 M1441.3,1331.0 L1441.3,1349.4 M1432.1,1337.9 L1425.2,1351.7"/>
<path d="M1434.4,1370.0 Q1416.0,1379.2 1411.4,1395.3 L1405.7,1436.6 L1404.5,1478.0 M1420.6,1393.0 L1429.8,1397.6 M1411.4,1409.1 Q1422.9,1402.2 1450.0,1404.5 M1409.1,1432.0 Q1422.9,1422.9 1450.0,1420.6 M1434.4,1386.1 L1448.2,1390.7"/>
<path d="M1360.9,1480.3 L1369.0,1468.8 L1377.0,1466.5 L1398.8,1478.0 M1360.9,1480.3 L1360.9,1500.0 M1369.0,1468.8 L1365.5,1500.0"/>
<path d="M1393.1,1487.1 Q1399.9,1480.3 1411.4,1482.5 Q1417.2,1487.1 1416.0,1500.0 M1416.0,1471.1 Q1422.9,1459.6 1436.7,1448.1 L1450.0,1436.6"/>
<ellipse cx="1406.8" cy="1494.0" rx="6.9" ry="6.4"/>
<path class="hv" d="M1429.8,1455.0 L1443.6,1461.9"/>
</g>
<g class="k" id="tr2">
<path d="M1390.0,1264.4 Q1399.2,1262.1 1404.9,1269.0 L1406.1,1282.8 L1399.2,1294.3 M1406.1,1287.4 Q1410.7,1284.0 1415.3,1286.2 L1465.8,1308.1 M1390.0,1292.0 L1417.6,1308.1"/>
<path d="M1424.4,1285.1 Q1429.0,1280.5 1435.9,1281.7 L1514.0,1328.7 M1424.4,1285.1 L1426.7,1292.0 L1461.2,1314.9"/>
<path d="M1438.2,1334.5 L1431.3,1351.7 M1445.1,1337.9 L1441.7,1356.3 M1454.3,1337.9 L1452.0,1358.6 M1456.6,1335.6 Q1463.5,1333.3 1470.4,1337.9 M1390.0,1365.5 L1408.4,1360.9 L1424.4,1344.8 M1390.0,1340.2 L1402.6,1333.3 M1390.0,1321.8 L1401.5,1327.6"/>
<ellipse cx="1419.8" cy="1324.1" rx="9.6" ry="11.0" transform="rotate(15 1419.8 1324.1)" class="w"/>
<ellipse cx="1419.2" cy="1324.1" rx="5.6" ry="6.6" transform="rotate(15 1419.2 1324.1)"/>
<ellipse cx="1450.8" cy="1320.7" rx="8.0" ry="9.2" transform="rotate(15 1450.8 1320.7)" class="w"/>
<ellipse cx="1450.2" cy="1320.7" rx="4.7" ry="5.5" transform="rotate(15 1450.2 1320.7)"/>
<path class="w" d="M1461.2,1310.4 Q1465.8,1303.5 1473.8,1305.8 Q1480.7,1309.2 1480.7,1318.4 Q1477.2,1326.4 1470.4,1325.3 Q1463.5,1321.8 1461.2,1310.4 Z"/>
<path d="M1468.1,1305.8 L1465.8,1321.8 M1474.9,1308.1 L1472.7,1324.1 M1481.8,1326.4 Q1491.0,1331.0 1497.9,1331.0 L1502.5,1326.4 M1517.4,1345.9 L1527.8,1351.7"/>
<ellipse cx="1508.2" cy="1337.9" rx="9.2" ry="10.6" transform="rotate(15 1508.2 1337.9)" class="w"/>
<ellipse cx="1507.5" cy="1337.9" rx="5.3" ry="6.3" transform="rotate(15 1507.5 1337.9)"/>
<path d="M1511.7,1352.8 Q1504.8,1360.9 1509.4,1370.0 L1517.4,1376.9 L1525.5,1383.8 M1504.8,1373.5 L1511.7,1390.7 M1515.1,1381.5 L1517.4,1388.4 M1510.5,1399.9 L1487.6,1412.5 M1516.3,1413.7 L1509.4,1457.3 L1505.9,1466.5 M1501.4,1420.6 L1496.8,1443.5 M1497.9,1484.8 L1486.4,1500.0"/>
<ellipse cx="1526.6" cy="1364.3" rx="9.2" ry="11.0" transform="rotate(15 1526.6 1364.3)" class="w"/>
<ellipse cx="1525.9" cy="1364.3" rx="5.3" ry="6.6" transform="rotate(15 1525.9 1364.3)"/>
<ellipse cx="1522.0" cy="1398.7" rx="9.2" ry="10.6" transform="rotate(15 1522.0 1398.7)" class="w"/>
<ellipse cx="1521.3" cy="1398.7" rx="5.3" ry="6.3" transform="rotate(15 1521.3 1398.7)"/>
<ellipse cx="1507.1" cy="1476.8" rx="9.6" ry="10.3" transform="rotate(15 1507.1 1476.8)" class="w"/>
<ellipse cx="1506.4" cy="1476.8" rx="5.6" ry="6.2" transform="rotate(15 1506.4 1476.8)"/>
<path d="M1492.2,1340.2 L1481.8,1358.6 L1473.8,1370.0"/>
<ellipse cx="1472.7" cy="1355.1" rx="8.7" ry="11.0" transform="rotate(15 1472.7 1355.1)" class="w"/>
<ellipse cx="1472.0" cy="1355.1" rx="5.1" ry="6.6" transform="rotate(15 1472.0 1355.1)"/>
<path d="M1426.7,1354.0 L1442.8,1359.7 Q1465.8,1367.8 1479.5,1390.7 Q1486.4,1409.1 1488.7,1436.6"/>
<path d="M1434.8,1370.0 Q1417.6,1379.2 1411.8,1395.3 Q1407.2,1413.7 1406.1,1436.6 L1402.6,1480.3 M1419.8,1393.0 L1430.2,1398.7 M1409.5,1411.4 Q1424.4,1399.9 1445.1,1404.5 L1454.3,1416.0 M1447.4,1406.8 L1468.1,1381.5 M1434.8,1385.0 L1449.7,1390.7 M1445.1,1365.5 L1458.9,1368.9 M1410.7,1429.7 Q1424.4,1420.6 1442.8,1420.6"/>
<ellipse cx="1454.3" cy="1381.5" rx="8.0" ry="9.6" transform="rotate(15 1454.3 1381.5)" class="w"/>
<ellipse cx="1453.6" cy="1381.5" rx="4.7" ry="5.8" transform="rotate(15 1453.6 1381.5)"/>
<path d="M1390.0,1475.7 L1401.5,1480.3 M1474.9,1418.3 L1486.4,1413.7 M1406.1,1461.9 L1433.6,1432.0"/>
<path d="M1418.0,1504.7 L1419.0,1490.4 Q1421.0,1472.0 1431.2,1451.6 Q1443.5,1427.1 1461.8,1420.0 Q1480.2,1418.0 1489.4,1435.3 Q1495.5,1449.6 1492.4,1466.9 Q1487.3,1492.4 1461.8,1527.1 M1421.0,1505.7 L1422.0,1490.4 Q1425.1,1472.0 1435.3,1453.7 Q1447.6,1431.2 1463.9,1427.1 Q1478.2,1427.1 1485.3,1440.4 Q1490.4,1453.7 1487.3,1470.0 Q1482.2,1492.4 1459.8,1522.0 M1458.8,1523.1 Q1480.2,1498.6 1485.3,1472.0 M1437.3,1438.4 L1444.5,1432.2"/>
<path d="M1425.6,1486.3 Q1435.3,1482.2 1439.4,1468.0 Q1441.4,1456.7 1440.4,1454.7 M1423.1,1505.7 Q1441.4,1494.5 1450.6,1472.0 Q1457.8,1453.7 1456.7,1445.5 Q1453.7,1442.4 1447.6,1445.5 Q1441.4,1449.6 1439.4,1454.7 M1414.9,1482.2 Q1421.0,1468.0 1427.1,1459.8 L1431.2,1455.7 M1461.8,1445.5 Q1468.0,1443.5 1472.0,1449.6 Q1476.1,1457.8 1474.1,1472.0 Q1471.0,1486.3 1461.8,1495.5 Q1457.8,1497.6 1454.7,1501.6 M1464.4,1439.4 L1463.9,1445.0 M1472.0,1458.8 Q1465.9,1459.8 1465.9,1464.9 Q1468.0,1470.0 1472.0,1470.5 Z M1458.8,1494.0 Q1451.6,1492.4 1447.6,1498.6 Q1447.6,1505.7 1452.7,1507.8"/>
<path class="fk" d="M1430.2,1453.7 L1440.4,1456.7 L1437.3,1461.8 L1428.2,1458.8 Z"/>
<ellipse cx="1464.4" cy="1438.4" rx="3.3" ry="3.1" class="fk"/>
<ellipse cx="1479.7" cy="1463.9" rx="3.7" ry="4.1" class="fk"/>
<ellipse cx="1459.8" cy="1505.7" rx="4.3" ry="3.9" class="fk"/>
<path d="M1408.8,1427.1 Q1418.0,1420.0 1431.2,1421.0 L1439.4,1422.0 M1409.8,1433.3 Q1418.0,1426.1 1429.2,1425.6 M1406.7,1463.9 Q1415.9,1445.5 1435.3,1427.1 M1441.4,1423.1 Q1451.6,1419.0 1461.8,1420.0 M1476.1,1421.0 L1484.3,1415.9 L1486.3,1424.1 Z"/>
<ellipse cx="1404.9" cy="1494.0" rx="10.3" ry="9.2"/>
</g>
<g class="k" id="tr3">
<path d="M1139.4,1500.0 Q1137.1,1507.6 1140.5,1525.9 Q1142.8,1539.7 1150.8,1553.5 L1150.8,1581.0 M1156.6,1493.8 L1142.8,1523.6 M1178.4,1500.0 Q1179.5,1525.9 1188.7,1553.5 Q1195.6,1571.8 1209.4,1574.1 Q1218.6,1571.8 1225.5,1560.4 M1158.9,1500.7 L1177.2,1509.8"/>
<path d="M1179.5,1512.1 Q1204.8,1525.9 1218.6,1523.6 M1248.4,1532.8 Q1266.8,1535.1 1276.0,1530.5 L1280.6,1525.9 M1246.1,1548.9 Q1264.5,1548.9 1273.7,1544.3 Q1280.6,1537.4 1280.6,1525.9"/>
<path d="M1215.1,1514.4 Q1218.6,1500.7 1227.8,1496.1 Q1241.5,1493.8 1248.4,1500.7 L1250.7,1514.4 M1220.9,1507.6 Q1232.3,1500.7 1246.1,1506.4 M1218.6,1523.6 L1218.6,1553.5 Q1223.2,1559.2 1234.6,1559.2 Q1243.8,1556.9 1246.1,1551.2 L1247.3,1521.3 M1220.9,1521.3 Q1232.3,1516.7 1246.1,1521.3 M1222.0,1546.6 Q1232.3,1542.0 1246.1,1546.6 M1224.3,1503.0 L1224.3,1519.0 M1241.5,1501.8 L1242.7,1519.0"/>
<ellipse cx="1233.5" cy="1535.8" rx="3.2" ry="2.8"/>
<path d="M1255.3,1521.3 L1256.5,1509.8 Q1264.5,1507.6 1271.4,1512.1 L1273.7,1523.6 M1259.9,1523.6 Q1266.8,1519.0 1273.7,1524.8 M1262.2,1500.0 Q1271.4,1501.8 1280.6,1497.2 M1273.7,1498.4 L1277.1,1512.1"/>
<path d="M1303.5,1503.0 Q1303.5,1498.4 1315.0,1497.2 Q1325.3,1499.5 1325.3,1505.3 L1326.5,1516.7 M1307.0,1500.0 L1307.0,1493.8 M1325.3,1500.0 L1325.3,1493.8"/>
<ellipse cx="1312.7" cy="1504.1" rx="6.4" ry="3.2"/>
<path d="M1282.9,1613.2 L1286.3,1537.4 Q1287.4,1516.7 1298.9,1511.0 M1287.4,1617.8 L1292.0,1539.7 Q1293.2,1523.6 1301.2,1516.7 L1328.8,1529.4 M1317.3,1516.7 L1321.9,1521.3"/>
<path class="w" d="M1319.6,1539.7 Q1321.9,1531.7 1331.1,1530.5 Q1341.4,1532.8 1342.5,1542.0 Q1340.3,1553.5 1331.1,1556.9 Q1321.9,1554.6 1319.6,1539.7 M1319.6,1546.6 L1316.1,1608.6 Q1310.4,1631.5 1301.2,1645.3"/>
<ellipse cx="1332.9" cy="1543.1" rx="5.7" ry="6.9" transform="rotate(20 1332.9 1543.1)"/>
<path d="M1342.5,1542.0 L1397.6,1512.1 M1347.1,1553.5 L1416.0,1519.0"/>
<path d="M1347.1,1564.9 L1328.8,1581.0 L1319.6,1645.3 L1312.7,1654.5 L1313.8,1721.1 L1321.9,1729.1 L1340.3,1726.8 M1344.8,1571.8 L1335.7,1582.2 L1326.5,1645.3 L1320.7,1654.5 L1321.9,1718.8 L1328.8,1725.7"/>
<path d="M1347.1,1564.9 L1427.5,1524.8 M1354.0,1568.4 L1429.8,1544.3 M1377.0,1578.7 L1434.4,1546.6 M1377.0,1578.7 L1375.8,1592.5 L1360.9,1615.5 L1354.0,1654.5 M1382.7,1583.3 L1381.6,1594.8 L1366.7,1617.8 L1359.8,1654.5"/>
<path class="w" d="M1395.4,1505.3 Q1393.1,1493.8 1402.2,1488.0 Q1411.4,1485.7 1414.9,1496.1 Q1413.7,1505.3 1406.8,1509.8 Q1399.9,1511.0 1395.4,1505.3 Z"/>
<ellipse cx="1405.7" cy="1498.4" rx="5.1" ry="6.4" transform="rotate(20 1405.7 1498.4)"/>
<path d="M1414.9,1505.3 L1450.0,1523.6 M1411.4,1509.8 L1450.0,1529.4 M1420.6,1500.0 L1421.8,1507.6"/>
<path d="M1420.6,1532.8 L1427.5,1525.9 L1434.4,1529.4 L1432.1,1537.4 Z M1425.2,1521.3 L1434.4,1523.6 M1439.0,1539.7 Q1439.0,1548.9 1450.0,1553.5 M1434.4,1546.6 L1450.0,1542.0"/>
<path d="M1336.8,1583.3 Q1342.5,1576.4 1351.7,1581.0 Q1356.3,1587.9 1351.7,1594.8 Q1344.8,1597.1 1339.1,1592.5 Z M1342.5,1581.0 L1341.4,1590.2 M1354.0,1568.4 L1372.4,1576.4 M1340.3,1599.4 L1358.6,1608.6 M1339.1,1654.5 L1338.0,1714.2 M1356.3,1663.7 L1357.5,1716.5"/>
<path d="M1328.8,1725.7 L1340.3,1726.8 Q1358.6,1718.8 1377.0,1716.5 Q1404.5,1709.6 1422.9,1691.2 Q1439.0,1672.9 1450.0,1649.9"/>
<ellipse cx="1405" cy="1642" rx="16" ry="25.5" transform="rotate(24 1405 1642)" style="stroke-width:5.6" class="w"/>
<path style="stroke-width:4" d="M1400.8,1627.7 L1410.2,1649.1 M1410.2,1625.0 L1399.0,1657.6 M1417.3,1633.9 L1402.6,1660.7 M1392.3,1640.2 L1398.6,1657.6 M1391.4,1650.4 L1395.0,1660.3"/>
<path d="M1156.6,1564.9 L1294.3,1639.6 M1148.5,1583.3 L1285.2,1657.9 M1147.4,1589.1 L1248.4,1647.6 M1246.1,1553.5 L1310.4,1587.9 M1250.7,1560.4 L1278.3,1574.1 M1292.0,1581.0 L1312.7,1592.5 M1285.2,1657.9 L1285.2,1709.6 M1292.0,1654.5 L1293.2,1700.4 M1285.2,1661.4 L1301.2,1645.3"/>
<path d="M1147.4,1590.2 L1149.7,1613.2 Q1154.3,1626.9 1168.1,1640.7 Q1172.7,1649.9 1170.4,1659.1 Q1163.5,1666.0 1156.6,1663.7 L1131.3,1651.0 L1119.8,1654.5 Q1103.8,1649.9 1095.7,1638.4 M1154.3,1617.8 L1156.6,1656.8 M1170.4,1645.3 Q1186.4,1654.5 1202.5,1661.4 Q1209.4,1670.6 1209.4,1686.6 Q1218.6,1695.8 1232.3,1697.0 L1255.3,1698.1 M1209.4,1691.2 Q1218.6,1702.7 1232.3,1702.7 L1255.3,1703.8"/>
<ellipse cx="1163.5" cy="1656.3" rx="2.3" ry="2.8"/>
<path d="M1255.3,1670.6 Q1259.9,1675.2 1271.4,1682.0 M1250.7,1659.1 L1257.6,1679.7 M1273.7,1707.3 L1280.6,1711.9 L1292.0,1707.3 L1293.2,1699.3 M1292.0,1709.6 L1313.8,1721.1"/>
<ellipse cx="1264.5" cy="1693.5" rx="11.0" ry="14.2" transform="rotate(-20 1264.5 1693.5)" class="w"/>
<ellipse cx="1264.0" cy="1694.0" rx="6.0" ry="7.8" transform="rotate(-20 1264.0 1694.0)"/>
<path d="M1261.0,1693.5 L1264.5,1688.9 L1267.9,1694.0 L1264.5,1698.6 Z"/>
<path d="M1113.0,1576.4 L1113.0,1592.5 M1099.2,1605.1 L1113.0,1592.5 L1131.3,1599.4 L1134.8,1605.1 L1115.3,1615.5 L1099.2,1612.0 Z M1115.3,1615.5 L1115.3,1618.9 L1100.3,1615.5 L1099.2,1612.0 M1134.8,1605.1 L1133.6,1610.9 L1142.8,1609.7"/>
<ellipse cx="1113.0" cy="1602.1" rx="5.1" ry="3.2"/>
<path d="M1127.9,1521.3 L1129.0,1537.4 L1123.3,1542.0 M1122.1,1547.7 Q1135.9,1553.5 1141.7,1562.7 L1141.7,1581.0"/>
<ellipse cx="1148.5" cy="1494.2" rx="3.2" ry="4.1"/>
</g>
<g class="k" id="tr4">
<path d="M1450,1524L1460,1530L1472,1532L1478,1537L1479,1548L1484,1558L1484,1574L1480,1583L1481,1597L1475,1615L1458,1633Q1450,1660 1430,1691Q1410,1712 1379,1719 M1450,1529L1458,1533 M1438,1540L1460,1532 M1443,1550L1463,1543L1472,1545L1478,1549 M1443,1552L1453,1563L1455,1633 M1437,1551L1438,1560L1445,1565 M1450,1650 Q1440,1680 1420,1700"/>
<path class="wf" d="M1518.9,1637.8 L1524.0,1607.1 L1539.3,1579.1 L1564.8,1566.8 L1580.1,1574.0 L1582.6,1586.7 L1600.5,1586.7 L1618.3,1574.0 L1636.2,1575.3 L1647.7,1584.2 L1646.4,1594.4 L1631.1,1602.0 L1628.6,1645.4 L1620.9,1653.1 L1620.9,1709.2 L1569.9,1742.3 L1557.1,1746.2 L1524.0,1724.5 L1524.0,1663.3 L1508.7,1656.9 L1504.8,1646.7 Z"/>
<path d="M1518.9,1637.8 Q1520.1,1607.1 1539.3,1579.1 Q1552.0,1568.9 1564.8,1566.8 Q1577.5,1568.9 1580.1,1574.0 L1582.6,1586.7 M1529.1,1636.5 Q1534.2,1602.0 1554.6,1584.2 M1562.2,1596.9 Q1560.9,1584.2 1569.9,1577.8 Q1578.8,1576.5 1581.4,1582.9"/>
<ellipse cx="1573.7" cy="1587.2" rx="5.1" ry="6.1" transform="rotate(15 1573.7 1587.2)"/>
<path class="w" d="M1600.5,1586.7 L1618.3,1574.0 Q1631.1,1571.4 1641.3,1576.5 Q1649.0,1584.2 1646.4,1594.4 L1631.1,1602.0 L1615.8,1599.5 Z"/>
<path d="M1633.7,1582.9 Q1628.6,1579.1 1622.2,1582.9 Q1620.9,1588.0 1627.3,1589.3 L1633.7,1588.0"/>
<path class="w" d="M1504.8,1646.7 Q1506.1,1639.0 1518.9,1636.5 Q1534.2,1635.2 1544.4,1648.0 L1541.8,1655.6 L1524.0,1660.7 Q1508.7,1659.4 1504.8,1646.7 Z"/>
<ellipse cx="1521.9" cy="1648.0" rx="7.7" ry="3.6" transform="rotate(5 1521.9 1648.0)"/>
<ellipse cx="1521.9" cy="1648.7" rx="3.1" ry="1.5"/>
<path d="M1543.1,1632.7 L1562.2,1599.5 L1572.4,1596.9 L1595.4,1607.1 L1615.8,1612.2 L1618.3,1619.9 M1543.1,1632.7 L1559.7,1642.9 L1564.8,1653.1 L1564.8,1673.5 M1559.7,1642.9 L1580.1,1612.2 L1595.4,1607.1 M1580.1,1612.2 L1615.8,1616.1 M1564.8,1653.1 L1595.4,1645.4 L1618.3,1619.9 L1628.6,1607.1 M1595.4,1645.4 L1597.9,1663.3 M1587.7,1650.5 L1585.2,1673.5 M1567.3,1655.6 L1564.8,1673.5"/>
<path d="M1524.0,1663.3 L1524.0,1724.5 L1557.1,1746.2 L1569.9,1742.3 L1620.9,1709.2 L1620.9,1653.1 M1526.5,1676.0 L1549.5,1682.4 L1585.2,1678.6 L1605.6,1663.3 L1628.6,1645.4 L1628.6,1607.1 M1564.8,1683.7 L1566.1,1716.8 M1554.6,1724.5 L1615.8,1696.4 L1620.9,1701.5 M1554.6,1724.5 L1557.1,1746.2 M1544.4,1650.5 L1546.9,1676.0"/>
<path d="M1566.1,1728.3 Q1559.7,1729.6 1560.2,1736.0 Q1563.5,1739.8 1567.3,1737.2 M1614.5,1701.5 Q1608.1,1702.8 1608.7,1708.7 Q1612.0,1711.7 1615.8,1709.7"/>
<path d="M1600.5,1586.7 L1603.0,1596.9 L1628.6,1607.1 M1582.6,1594.4 L1600.5,1596.9"/>
</g>
<g class="k" id="sf1">
<path d="M193.7,2016.7 L227.4,1998.7 M304.7,1997.6 L328.8,2011.0 L273.3,2053.1 L193.7,2016.7 M204.4,2014.8 L270.3,2045.4 M277.1,2046.6 L321.1,2013.6"/>
<path class="w" d="M228.2,2003.3 L229.3,2014.8 Q235.1,2032.0 269.5,2033.9 Q300.1,2030.1 304.7,2012.9 L304.7,2001.4"/>
<ellipse cx="266.4" cy="2001.4" rx="38.3" ry="21.0" class="w"/>
<ellipse cx="266.4" cy="2002.2" rx="11.5" ry="6.5"/>
<path d="M193.7,2016.7 L193.7,2039.7 L208.3,2051.1 Q215.9,2072.2 217.8,2099.0 L221.7,2121.9 L215.9,2137.2 Q210.2,2144.9 211.3,2167.9 M273.3,2053.1 L273.3,2137.2 Q277.1,2160.2 296.3,2175.5 M328.8,2011.0 L336.5,2016.7 L336.5,2074.1 L328.8,2077.9 L328.8,2011.0 M332.6,2018.6 L332.6,2072.2 M273.3,2099.0 L328.8,2077.9"/>
<path d="M340.3,2037.8 Q369.0,2022.5 399.6,2016.7 L495.3,2001.4 M363.2,2068.4 Q391.9,2056.9 414.9,2053.1 L506.7,2039.7 Q552.7,2026.3 587.1,2001.4 L663.6,1949.7 L694.2,1936.4 M277.1,2128.8 L361.3,2083.7 Q391.9,2068.4 422.6,2064.5 L506.7,2051.1 Q556.5,2037.8 590.9,2011.0 L667.5,1963.1 M284.8,2160.2 L384.3,2106.6 Q414.9,2095.2 445.5,2091.3 L514.4,2079.8 Q556.5,2068.4 583.3,2049.2 L678.9,1991.8 L694.2,1982.3 M292.5,2106.6 L330.7,2087.5"/>
<path d="M495.3,2001.4 L491.4,1959.3 L506.7,1945.9 L537.4,1926.8 L546.9,1921.0 L552.7,1927.6 L516.3,1949.7 L514.4,1965.1 L510.6,1982.3 L497.2,2000.3 M502.9,1949.7 L506.7,1982.3 M497.2,1957.4 L501.0,1989.9"/>
<ellipse cx="548.8" cy="1949.7" rx="16.5" ry="5.0" transform="rotate(-32 548.8 1949.7)"/>
<path d="M552.7,1927.6 L568.0,1928.7 Q629.2,1932.5 705.7,1900.0 M552.7,1927.6 L610.1,1930.6 L617.7,1936.4 L556.5,1978.4 L569.9,1984.2 L598.6,1965.1 L589.0,1959.3 M497.2,2000.3 L552.7,1982.3"/>
<path d="M684.7,1936.4 L694.2,1945.9 L675.1,1957.4 L678.9,1963.1 L700.0,1973.1 L770.0,2012.5 M684.7,1936.4 L744.0,1903.8 M700.0,1957.4 L770.0,1998.0 M667.5,1993.0 L700.0,2011.0 L770.0,2051.1 M682.8,1978.4 L700.0,1988.0 L770.0,2027.8 M615.8,1978.4 L663.6,1949.7"/>
<path d="M211.3,2167.9 L211.3,2148.7 Q214.0,2129.6 237.0,2106.6 L273.3,2123.9 M211.3,2167.9 Q215.9,2206.1 246.5,2236.7 L323.1,2282.7 L367.1,2307.5 M215.9,2143.0 Q219.7,2175.5 254.2,2206.1 L330.7,2257.8 Q349.8,2267.4 369.0,2282.7 M296.3,2175.5 Q323.1,2202.3 353.7,2217.6 L414.9,2252.0 M265.7,2202.3 L296.3,2187.0 M277.1,2215.7 L307.8,2196.6 M326.9,2240.6 L357.5,2225.3 M338.4,2248.2 L369.0,2229.1"/>
<path class="w" d="M367.1,2284.6 L462.7,2229.1 L476.1,2229.9 L497.2,2240.6 L502.9,2250.1 L414.9,2305.6 Z"/>
<ellipse cx="466.6" cy="2248.2" rx="8.4" ry="5.0"/>
<ellipse cx="398.8" cy="2291.5" rx="8.4" ry="5.0"/>
<path d="M367.1,2284.6 L368.2,2298.0 L378.5,2305.6 L382.4,2317.1 L386.2,2317.1 L386.2,2305.6 L414.9,2305.6 M414.9,2305.6 L411.1,2320.9 L430.2,2332.4 L434.0,2345.8 M502.9,2250.1 L495.3,2267.4 L495.3,2294.1 M397.7,2311.4 L397.7,2350.0"/>
<path d="M434.0,2345.8 L437.9,2315.2 Q449.3,2298.0 476.1,2290.3"/>
</g>
<g class="k" id="sf2">
<path class="wf" d="M814.8,1678.3 L843.5,1663.0 L920.0,1661.0 L944.9,1676.4 L952.6,1687.8 L971.7,1766.3 L972.5,1819.8 L879.8,1873.4 L870.3,1883.0 L809.1,1892.6 L791.8,1846.6 L770.8,1863.9 L733.7,1842.8 L756.6,1743.3 L780.4,1745.2 L826.3,1722.3 L804.1,1703.1 L807.1,1682.1 Z"/>
<path d="M814.8,1678.3 L843.5,1663.0 M920.0,1661.0 L944.9,1676.4 L879.8,1716.5 L814.8,1678.3 M824.4,1681.3 L879.8,1711.9 L935.3,1677.5"/>
<path class="w" d="M843.5,1666.8 L843.5,1678.3 Q849.2,1697.4 883.7,1699.3 Q914.3,1697.4 920.0,1678.3 L920.0,1666.0"/>
<ellipse cx="881.8" cy="1664.9" rx="38.3" ry="21.0" class="w"/>
<ellipse cx="881.8" cy="1664.9" rx="11.5" ry="6.5"/>
<path d="M944.9,1676.4 L952.6,1687.8 L971.7,1766.3 L972.5,1819.8 L879.8,1873.4 M879.8,1716.5 L891.3,1766.3 L900.9,1804.5 M971.7,1770.1 L908.5,1804.5 M814.8,1678.3 L807.1,1682.1 L804.1,1703.1 L818.6,1712.7 L826.3,1722.3 M944.9,1685.9 L964.0,1766.3"/>
<path d="M835.8,1714.6 L776.5,1745.2 M879.8,1731.8 L797.6,1770.1 L837.8,1787.3 L837.8,1800.7 M791.8,1744.1 L820.5,1735.7 L835.8,1743.3 L814.8,1754.8 M797.6,1770.1 L791.8,1777.8 M879.8,1716.5 L879.8,1758.6 L866.5,1773.9 L858.8,1793.1 L845.4,1800.7 M868.4,1785.4 L900.9,1804.5 M858.8,1819.8 L899.0,1806.5 M864.5,1827.5 L895.2,1814.1"/>
<path class="w" d="M756.6,1743.3 L793.8,1766.3 L770.8,1863.9 L733.7,1842.8 Z"/>
<ellipse cx="770.8" cy="1774.7" rx="7.7" ry="8.8" transform="rotate(10 770.8 1774.7)"/>
<ellipse cx="757.4" cy="1833.2" rx="7.7" ry="8.8" transform="rotate(10 757.4 1833.2)"/>
<path d="M793.8,1835.2 L839.7,1802.6 L855.0,1808.4 L864.5,1869.6 L870.3,1883.0 L879.8,1873.4 L883.7,1877.2 L874.1,1884.9 L866.5,1881.1 M793.8,1835.2 L791.8,1846.6 L803.3,1839.0 L809.1,1892.6 M803.3,1839.0 L845.4,1808.4 M791.8,1846.6 L774.6,1860.0 M782.3,1863.9 L795.7,1871.5 L784.2,1879.2"/>
<path d="M700.0,1896.4 L745.9,1856.2 M700.0,1927.0 L784.2,1879.2 L1151.5,2090.0 M828.2,1900.2 L868.4,1877.2"/>
<path d="M803.3,1934.6 Q799.5,1917.4 768.9,1916.3 Q734.4,1919.3 730.6,1938.5 Q734.4,1957.6 765.1,1960.7 M738.3,1946.1 Q749.7,1934.6 776.5,1936.6 Q799.5,1942.3 801.4,1950.0 Q788.0,1957.6 768.9,1959.5 M782.3,1919.3 Q799.5,1927.0 822.5,1928.9 M845.4,1927.0 Q860.7,1930.8 864.5,1938.5"/>
<ellipse cx="840.8" cy="1950.0" rx="8.4" ry="5.0"/>
<path d="M803.3,1942.3 L826.3,1936.6 Q853.1,1942.3 860.7,1946.1 Q856.9,1965.3 864.5,1972.9 L1067.4,2090.0 M868.4,1965.3 L1044.4,2066.7 M776.5,1961.4 L822.5,1986.3 M822.5,1986.3 L818.6,2007.4 Q818.6,2022.7 830.1,2028.4 L883.7,2024.6 L899.0,2026.5 M820.5,1990.1 L820.5,2013.1 M824.4,1992.0 L824.4,2015.0"/>
<ellipse cx="841.6" cy="2020.7" rx="7.7" ry="4.6"/>
<path d="M700.0,1957.6 L860.0,2060.9 M700.0,1972.9 L860.0,2071.6 M700.0,1988.2 L860.0,2092.7 M700.0,2011.2 L860.0,2104.9"/>
</g>
<g class="k" id="sf3">
<path d="M1341.7,1987.0 L1376.9,1967.8 M1451.5,1965.9 L1478.3,1983.1 L1415.2,2021.4 L1341.7,1987.0 M1478.3,1983.1 L1484.1,1987.0 L1484.1,2021.4 L1478.3,2019.5 L1478.3,1983.1 M1474.5,1988.9 L1474.5,2017.6 M1415.2,2021.4 L1415.2,2052.0 L1478.3,2019.5 M1341.7,1987.0 L1342.5,1998.4 L1376.9,2015.7 L1378.8,2048.2"/>
<path class="w" d="M1375.0,1975.5 L1375.8,1987.0 Q1382.7,2006.1 1417.1,2008.0 Q1447.7,2005.0 1453.4,1985.1 L1453.4,1973.6"/>
<ellipse cx="1414.0" cy="1973.6" rx="39.0" ry="21.8" class="w"/>
<ellipse cx="1414.0" cy="1973.6" rx="11.5" ry="6.5"/>
<path d="M1415.2,2052.0 L1432.4,2046.3 L1432.4,2088.4 L1369.3,2124.7 M1378.8,2048.2 Q1363.5,2057.8 1357.8,2080.7 L1354.0,2090.3 M1394.1,2052.0 Q1371.2,2065.4 1365.4,2088.4 M1405.6,2059.7 L1373.1,2076.9 M1424.8,2053.9 L1367.4,2084.5"/>
<path d="M1341.7,1998.4 L1267.9,2034.8 L1294.6,2052.0 L1376.9,2015.7 M1283.2,2034.8 L1317.6,2021.4 L1332.9,2031.0 L1298.5,2046.3 Z M1317.6,2053.9 L1378.8,2023.3"/>
<path class="w" d="M1254.5,2030.2 L1292.7,2052.0 L1269.8,2151.5 L1232.3,2128.5 Z"/>
<ellipse cx="1268.6" cy="2062.3" rx="7.3" ry="8.8" transform="rotate(10 1268.6 2062.3)"/>
<ellipse cx="1255.6" cy="2121.7" rx="7.3" ry="8.8" transform="rotate(10 1255.6 2121.7)"/>
<path d="M1292.7,2052.0 L1317.6,2063.5 L1336.7,2073.1 L1338.7,2088.4 L1350.1,2090.3 M1287.0,2122.8 L1294.6,2126.6 L1273.6,2145.8"/>
<path d="M1294.6,2126.6 L1336.7,2092.2 L1352.0,2090.3 L1361.6,2103.7 L1371.2,2174.5 L1378.8,2176.4 L1389.5,2170.6 L1382.7,2163.0 L1376.9,2172.6 M1294.6,2126.6 L1310.0,2134.3 L1317.6,2195.5 L1310.0,2201.3 L1260.2,2201.3 M1310.0,2134.3 L1352.0,2107.5 M1334.8,2115.2 L1336.7,2141.9 L1311.9,2157.2 M1319.5,2159.2 L1371.2,2174.5 M1277.4,2149.6 L1281.3,2180.2 L1317.6,2193.6"/>
<ellipse cx="1326.0" cy="2110.2" rx="8.4" ry="6.9"/>
<path d="M1000.0,2002.3 L1208.5,2122.8 L1233.4,2107.5"/>
<path d="M1000.0,2042.5 L1042.1,2067.3 Q1057.4,2084.5 1076.5,2084.5 L1099.5,2086.5 Q1114.8,2092.2 1111.0,2111.3 L1122.5,2120.9 M1091.8,2073.1 Q1111.0,2076.9 1116.7,2088.4 M1122.5,2111.3 L1137.8,2120.9"/>
<ellipse cx="1091.8" cy="2097.9" rx="8.4" ry="5.0"/>
<path d="M1078.4,2145.8 Q1082.3,2164.9 1122.5,2166.8 Q1156.9,2163.0 1160.0,2143.9 Q1153.1,2122.8 1114.8,2122.8 Q1088.0,2128.5 1083.4,2143.9 M1086.1,2149.6 Q1099.5,2138.1 1126.3,2138.9 Q1145.4,2141.9 1149.2,2149.6"/>
<path d="M1000.0,2092.2 Q1023.0,2096.0 1026.8,2111.3 Q1023.0,2126.6 1007.7,2130.5 M1000.0,2126.6 L1015.3,2132.4"/>
<path d="M1061.2,2216.6 L1112.9,2178.3 L1133.9,2187.9 L1229.6,2130.5"/>
<path d="M1000.0,2264.4 Q1015.3,2241.4 1061.2,2216.6 M1122.5,2222.3 Q1153.1,2205.1 1183.7,2203.2 Q1214.3,2195.5 1233.4,2164.9 L1244.9,2141.9 M1122.5,2231.9 Q1156.9,2216.6 1187.5,2214.6 Q1221.9,2207.0 1241.1,2172.6 L1252.6,2149.6 M1126.3,2272.0 Q1160.7,2249.1 1199.0,2237.6 Q1237.2,2222.3 1260.2,2195.5 L1279.3,2180.2"/>
<path d="M1112.9,2205.1 Q1122.5,2207.0 1118.6,2216.6 Q1109.1,2230.0 1114.8,2245.3 Q1126.3,2256.7 1122.5,2272.0 L1114.8,2277.8 M1070.8,2237.6 L1112.9,2205.1 M1036.4,2256.7 L1059.3,2237.6 L1080.4,2247.2 L1053.6,2266.3 Z"/>
<ellipse cx="1098.7" cy="2268.2" rx="16.5" ry="5.0" transform="rotate(-36 1098.7 2268.2)"/>
<path d="M1038.3,2260.6 Q1026.8,2283.5 1023.0,2310.3 L1015.3,2370.0 M1076.5,2291.2 Q1045.9,2295.0 1034.4,2318.0 Q1028.7,2340.9 1026.8,2370.0 M1122.5,2277.8 L1089.9,2291.2 L1076.5,2291.2 M1059.3,2293.1 L1059.3,2321.8 L1042.1,2333.3 Q1038.3,2352.4 1038.3,2370.0"/>
<path d="M1122.5,2277.8 L1132.0,2285.4 L1132.0,2337.1 L1099.5,2319.9 M1132.0,2285.4 L1139.7,2283.5 L1139.7,2318.0 Q1145.4,2325.6 1151.1,2319.9 L1152.3,2323.7 L1132.0,2337.1 M1078.4,2293.1 L1095.7,2306.5 L1095.7,2352.4 L1088.0,2360.1 L1084.2,2316.1 L1095.7,2306.5 M1049.7,2327.5 L1084.2,2344.8 M1042.1,2344.8 L1086.1,2348.6"/>
</g>
<g class="k" id="sf4">
<path d="M478.7,2288.8 L705.7,2413.3 Q751.6,2444.4 797.6,2451.0 L843.5,2453.6 M443.0,2311.7 L705.7,2457.1 Q756.7,2487.8 807.8,2485.2 L858.8,2477.6 M443.0,2321.9 L695.5,2464.8 Q751.6,2498.0 812.9,2495.4 L869.0,2487.8 M435.3,2314.3 L435.3,2344.9 L685.3,2487.8 Q746.5,2526.0 807.8,2526.0 L874.1,2513.3 M478.7,2288.8 Q450.6,2296.4 443.0,2311.7 L435.3,2314.3 M858.8,2477.6 Q871.5,2482.7 874.1,2513.3"/>
<path d="M851.1,2398.5 L889.4,2378.1 M965.9,2380.6 L1001.6,2403.6 L922.6,2436.7 L851.1,2398.5 M858.8,2401.0 L922.6,2430.6 L994.0,2405.1 M1001.6,2403.6 L1002.7,2421.4 L925.1,2459.7 L922.6,2436.7 M851.1,2398.5 L843.5,2454.6 L874.1,2482.7 L879.2,2513.3 M925.1,2459.7 L899.6,2462.2 L881.7,2513.3 L1006.7,2446.9 Q1032.2,2426.5 1037.9,2369.9"/>
<path class="w" d="M889.4,2388.3 L890.4,2401.0 Q899.6,2418.9 930.2,2420.4 Q960.8,2417.3 965.9,2398.5 L965.9,2385.7"/>
<ellipse cx="927.7" cy="2385.7" rx="38.3" ry="21.4" class="w"/>
<ellipse cx="927.7" cy="2386.7" rx="11.2" ry="6.6"/>
<path d="M1000.1,2264.3 Q983.8,2304.1 981.2,2339.8 Q978.7,2360.2 968.5,2373.0 M1015.4,2369.9 Q1011.8,2393.4 1001.6,2403.6 M1026.6,2369.9 Q1022.0,2406.1 1006.7,2418.9"/>
<ellipse cx="840.9" cy="2151.0" rx="24.5" ry="12.8" class="w"/>
<ellipse cx="840.9" cy="2151.0" rx="13.3" ry="7.1"/>
<ellipse cx="840.9" cy="2151.5" rx="7.1" ry="4.1"/>
<path d="M819.0,2157.1 L825.6,2168.9 L835.8,2175.5 L851.1,2174.0 L861.3,2163.8 L863.9,2155.1 M825.6,2168.9 L828.2,2161.2 M851.1,2174.0 L850.1,2163.8"/>
</g>
<g class="k" id="sfgap">
<path d="M860.0,2061.1 L927.0,2101.3 M860.0,2071.7 L888.7,2088.9 M900.2,2096.5 L945.1,2122.4 M936.5,2107.1 Q955.7,2115.7 967.1,2129.1 Q974.8,2138.6 986.3,2144.4 L1070.5,2193.1 M860.0,2092.7 L940.4,2142.4 Q951.8,2148.2 967.1,2150.1 L978.6,2153.9 L1065.7,2201.8 M860.0,2105.1 L936.5,2152.0 Q946.1,2157.8 963.3,2159.7 L974.8,2164.5 L1057.1,2211.3 M1003.5,2125.2 L1009.2,2132.9 L1094.4,2182.6"/>
<path d="M899.0,2026.5 L997.8,2086.0 Q1016.9,2090.8 1023.6,2104.2 Q1026.5,2113.7 1018.8,2121.4 Q1005.4,2126.2 986.3,2123.3 Q971.0,2119.5 961.4,2109.9 M1024.5,2109.9 Q1028.4,2119.5 1013.1,2131.0 M927.0,2089.8 L959.5,2071.7 M947.1,2099.4 L978.6,2081.2"/>
<ellipse cx="993.0" cy="2106.1" rx="8.6" ry="5.2"/>
</g>
<g class="k" id="over">
<path class="dd" d="M838,1640V1948"/>
<path d="M1420.5,609V690"/>
<path d="M947,1335V1371"/>
</g>

<g class="k" id="bolts">
<g transform="translate(579,58) rotate(0.0)"><path class="w" stroke="none" d="M-19.0,7.6L-10.3,0L10.3,0L19.0,7.6V27.6L11.5,37.2V142.0H-11.5V37.2L-19.0,27.6Z"/><path d="M-19.0,7.6L-10.3,0L10.3,0L19.0,7.6L10.3,15.2L-10.3,15.2ZM-19.0,7.6V23.6M-10.3,15.2V31.2M10.3,15.2V31.2M19.0,7.6V23.6M-19.0,23.6Q-23.0,24.6 -22.0,28.6Q-19.0,39.2 0,39.2Q19.0,39.2 22.0,28.6Q23.0,24.6 19.0,23.6M-22.0,25.6Q0,37.2 22.0,25.6M-11.5,38.2V88.0M11.5,38.2V88.0M-11.5,88.0Q-13.1,92.8 -11.5,97.7M11.5,88.0Q13.1,92.8 11.5,97.7M-11.5,97.7Q0,101.2 11.5,97.7M-11.5,97.7Q-13.1,102.5 -11.5,107.3M11.5,97.7Q13.1,102.5 11.5,107.3M-11.5,107.3Q0,110.8 11.5,107.3M-11.5,107.3Q-13.1,112.1 -11.5,117.0M11.5,107.3Q13.1,112.1 11.5,117.0M-11.5,117.0Q0,120.5 11.5,117.0M-11.5,117.0Q-13.1,121.8 -11.5,126.6M11.5,117.0Q13.1,121.8 11.5,126.6M-11.5,126.6Q0,130.1 11.5,126.6M-11.5,126.6Q-13.1,131.5 -11.5,136.3M11.5,126.6Q13.1,131.5 11.5,136.3M-11.5,136.3Q0,139.8 11.5,136.3M-11.5,136.3Q-13.1,139.1 -11.5,142.0M11.5,136.3Q13.1,139.1 11.5,142.0M-11.5,142.0Q0,145.5 11.5,142.0"/></g>
<g transform="translate(333,257) rotate(0.0)"><path class="w" stroke="none" d="M-17.0,6.8L-9.2,0L9.2,0L17.0,6.8V24.8L10.0,33.6V75.0H-10.0V33.6L-17.0,24.8Z"/><path d="M-17.0,6.8L-9.2,0L9.2,0L17.0,6.8L9.2,13.6L-9.2,13.6ZM-17.0,6.8V20.8M-9.2,13.6V27.6M9.2,13.6V27.6M17.0,6.8V20.8M-17.0,20.8Q-21.0,21.8 -20.0,25.8Q-17.0,35.6 0,35.6Q17.0,35.6 20.0,25.8Q21.0,21.8 17.0,20.8M-20.0,22.8Q0,33.6 20.0,22.8M-10.0,34.6V41.0M10.0,34.6V41.0M-10.0,41.0Q-11.6,45.2 -10.0,49.4M10.0,41.0Q11.6,45.2 10.0,49.4M-10.0,49.4Q0,52.9 10.0,49.4M-10.0,49.4Q-11.6,53.6 -10.0,57.8M10.0,49.4Q11.6,53.6 10.0,57.8M-10.0,57.8Q0,61.3 10.0,57.8M-10.0,57.8Q-11.6,62.0 -10.0,66.2M10.0,57.8Q11.6,62.0 10.0,66.2M-10.0,66.2Q0,69.7 10.0,66.2M-10.0,66.2Q-11.6,70.4 -10.0,74.6M10.0,66.2Q11.6,70.4 10.0,74.6M-10.0,74.6Q0,78.1 10.0,74.6"/></g>
<g transform="translate(219.5,554) rotate(0.0)"><path class="w" stroke="none" d="M-16.5,6.6L-8.9,0L8.9,0L16.5,6.6V24.6L9.5,33.2V78.0H-9.5V33.2L-16.5,24.6Z"/><path d="M-16.5,6.6L-8.9,0L8.9,0L16.5,6.6L8.9,13.2L-8.9,13.2ZM-16.5,6.6V20.6M-8.9,13.2V27.2M8.9,13.2V27.2M16.5,6.6V20.6M-16.5,20.6Q-20.5,21.6 -19.5,25.6Q-16.5,35.2 0,35.2Q16.5,35.2 19.5,25.6Q20.5,21.6 16.5,20.6M-19.5,22.6Q0,33.2 19.5,22.6M-9.5,34.2V51.0M9.5,34.2V51.0M-9.5,51.0Q-11.1,55.0 -9.5,59.0M9.5,51.0Q11.1,55.0 9.5,59.0M-9.5,59.0Q0,62.5 9.5,59.0M-9.5,59.0Q-11.1,63.0 -9.5,67.0M9.5,59.0Q11.1,63.0 9.5,67.0M-9.5,67.0Q0,70.5 9.5,67.0M-9.5,67.0Q-11.1,70.9 -9.5,74.9M9.5,67.0Q11.1,70.9 9.5,74.9M-9.5,74.9Q0,78.4 9.5,74.9M-9.5,74.9Q-11.1,76.5 -9.5,78.0M9.5,74.9Q11.1,76.5 9.5,78.0M-9.5,78.0Q0,81.5 9.5,78.0"/></g>
<g transform="translate(1421,527) rotate(0.0)"><path class="w" stroke="none" d="M-16.5,6.6L-8.9,0L8.9,0L16.5,6.6V24.6L9.0,33.2V74.0H-9.0V33.2L-16.5,24.6Z"/><path d="M-16.5,6.6L-8.9,0L8.9,0L16.5,6.6L8.9,13.2L-8.9,13.2ZM-16.5,6.6V20.6M-8.9,13.2V27.2M8.9,13.2V27.2M16.5,6.6V20.6M-16.5,20.6Q-20.5,21.6 -19.5,25.6Q-16.5,35.2 0,35.2Q16.5,35.2 19.5,25.6Q20.5,21.6 16.5,20.6M-19.5,22.6Q0,33.2 19.5,22.6M-9.0,34.2V41.0M9.0,34.2V41.0M-9.0,41.0Q-10.6,44.8 -9.0,48.6M9.0,41.0Q10.6,44.8 9.0,48.6M-9.0,48.6Q0,52.1 9.0,48.6M-9.0,48.6Q-10.6,52.3 -9.0,56.1M9.0,48.6Q10.6,52.3 9.0,56.1M-9.0,56.1Q0,59.6 9.0,56.1M-9.0,56.1Q-10.6,59.9 -9.0,63.7M9.0,56.1Q10.6,59.9 9.0,63.7M-9.0,63.7Q0,67.2 9.0,63.7M-9.0,63.7Q-10.6,67.5 -9.0,71.2M9.0,63.7Q10.6,67.5 9.0,71.2M-9.0,71.2Q0,74.7 9.0,71.2M-9.0,71.2Q-10.6,72.6 -9.0,74.0M9.0,71.2Q10.6,72.6 9.0,74.0M-9.0,74.0Q0,77.5 9.0,74.0"/></g>
<g transform="translate(1522,1810) rotate(180.0)"><path class="w" stroke="none" d="M-12.0,4.8L-6.5,0L6.5,0L12.0,4.8V18.8L6.5,25.6V60.0H-6.5V25.6L-12.0,18.8Z"/><path d="M-12.0,4.8L-6.5,0L6.5,0L12.0,4.8L6.5,9.6L-6.5,9.6ZM-12.0,4.8V14.8M-6.5,9.6V19.6M6.5,9.6V19.6M12.0,4.8V14.8M-12.0,14.8Q-16.0,15.8 -15.0,19.8Q-12.0,27.6 0,27.6Q12.0,27.6 15.0,19.8Q16.0,15.8 12.0,14.8M-15.0,16.8Q0,25.6 15.0,16.8M-6.5,26.6V28.0M6.5,26.6V28.0M-6.5,28.0Q-8.1,30.8 -6.5,33.5M6.5,28.0Q8.1,30.8 6.5,33.5M-6.5,33.5Q0,37.0 6.5,33.5M-6.5,33.5Q-8.1,36.2 -6.5,39.0M6.5,33.5Q8.1,36.2 6.5,39.0M-6.5,39.0Q0,42.5 6.5,39.0M-6.5,39.0Q-8.1,41.8 -6.5,44.5M6.5,39.0Q8.1,41.8 6.5,44.5M-6.5,44.5Q0,48.0 6.5,44.5M-6.5,44.5Q-8.1,47.2 -6.5,50.0M6.5,44.5Q8.1,47.2 6.5,50.0M-6.5,50.0Q0,53.5 6.5,50.0M-6.5,50.0Q-8.1,52.8 -6.5,55.5M6.5,50.0Q8.1,52.8 6.5,55.5M-6.5,55.5Q0,59.0 6.5,55.5M-6.5,55.5Q-8.1,57.8 -6.5,60.0M6.5,55.5Q8.1,57.8 6.5,60.0M-6.5,60.0Q0,63.5 6.5,60.0"/></g>
<g transform="translate(397,2434) rotate(180.0)"><path class="w" stroke="none" d="M-17.0,6.8L-9.2,0L9.2,0L17.0,6.8V22.8L8.5,31.6V77.0H-8.5V31.6L-17.0,22.8Z"/><path d="M-17.0,6.8L-9.2,0L9.2,0L17.0,6.8L9.2,13.6L-9.2,13.6ZM-17.0,6.8V18.8M-9.2,13.6V25.6M9.2,13.6V25.6M17.0,6.8V18.8M-17.0,18.8Q-21.0,19.8 -20.0,23.8Q-17.0,33.6 0,33.6Q17.0,33.6 20.0,23.8Q21.0,19.8 17.0,18.8M-20.0,20.8Q0,31.6 20.0,20.8M-8.5,32.6V35.0M8.5,32.6V35.0M-8.5,35.0Q-10.1,38.6 -8.5,42.1M8.5,35.0Q10.1,38.6 8.5,42.1M-8.5,42.1Q0,45.6 8.5,42.1M-8.5,42.1Q-10.1,45.7 -8.5,49.3M8.5,42.1Q10.1,45.7 8.5,49.3M-8.5,49.3Q0,52.8 8.5,49.3M-8.5,49.3Q-10.1,52.9 -8.5,56.4M8.5,49.3Q10.1,52.9 8.5,56.4M-8.5,56.4Q0,59.9 8.5,56.4M-8.5,56.4Q-10.1,60.0 -8.5,63.6M8.5,56.4Q10.1,60.0 8.5,63.6M-8.5,63.6Q0,67.1 8.5,63.6M-8.5,63.6Q-10.1,67.1 -8.5,70.7M8.5,63.6Q10.1,67.1 8.5,70.7M-8.5,70.7Q0,74.2 8.5,70.7M-8.5,70.7Q-10.1,73.8 -8.5,77.0M8.5,70.7Q10.1,73.8 8.5,77.0M-8.5,77.0Q0,80.5 8.5,77.0"/></g>
<g transform="translate(361,547) rotate(-62.2)"><path class="w" stroke="none" d="M-20.0,8.0L-10.8,0L10.8,0L20.0,8.0V24.0L10.5,34.0V91.0H-10.5V34.0L-20.0,24.0Z"/><path d="M-20.0,8.0L-10.8,0L10.8,0L20.0,8.0L10.8,16.0L-10.8,16.0ZM-20.0,8.0V20.0M-10.8,16.0V28.0M10.8,16.0V28.0M20.0,8.0V20.0M-20.0,20.0Q-24.0,21.0 -23.0,25.0Q-20.0,36.0 0,36.0Q20.0,36.0 23.0,25.0Q24.0,21.0 20.0,20.0M-23.0,22.0Q0,34.0 23.0,22.0M-10.5,35.0V36.0M10.5,35.0V36.0M-10.5,36.0Q-12.1,40.4 -10.5,44.8M10.5,36.0Q12.1,40.4 10.5,44.8M-10.5,44.8Q0,48.3 10.5,44.8M-10.5,44.8Q-12.1,49.2 -10.5,53.6M10.5,44.8Q12.1,49.2 10.5,53.6M-10.5,53.6Q0,57.1 10.5,53.6M-10.5,53.6Q-12.1,58.0 -10.5,62.5M10.5,53.6Q12.1,58.0 10.5,62.5M-10.5,62.5Q0,66.0 10.5,62.5M-10.5,62.5Q-12.1,66.9 -10.5,71.3M10.5,62.5Q12.1,66.9 10.5,71.3M-10.5,71.3Q0,74.8 10.5,71.3M-10.5,71.3Q-12.1,75.7 -10.5,80.1M10.5,71.3Q12.1,75.7 10.5,80.1M-10.5,80.1Q0,83.6 10.5,80.1M-10.5,80.1Q-12.1,84.5 -10.5,88.9M10.5,80.1Q12.1,84.5 10.5,88.9M-10.5,88.9Q0,92.4 10.5,88.9M-10.5,88.9Q-12.1,90.0 -10.5,91.0M10.5,88.9Q12.1,90.0 10.5,91.0M-10.5,91.0Q0,94.5 10.5,91.0"/></g>
<g transform="translate(422,1253) rotate(-127.9)"><path class="w" stroke="none" d="M-15.5,6.2L-8.4,0L8.4,0L15.5,6.2V22.2L9.0,30.4V67.0H-9.0V30.4L-15.5,22.2Z"/><path d="M-15.5,6.2L-8.4,0L8.4,0L15.5,6.2L8.4,12.4L-8.4,12.4ZM-15.5,6.2V18.2M-8.4,12.4V24.4M8.4,12.4V24.4M15.5,6.2V18.2M-15.5,18.2Q-19.5,19.2 -18.5,23.2Q-15.5,32.4 0,32.4Q15.5,32.4 18.5,23.2Q19.5,19.2 15.5,18.2M-18.5,20.2Q0,30.4 18.5,20.2M-9.0,31.4V32.0M9.0,31.4V32.0M-9.0,32.0Q-10.6,35.8 -9.0,39.6M9.0,32.0Q10.6,35.8 9.0,39.6M-9.0,39.6Q0,43.1 9.0,39.6M-9.0,39.6Q-10.6,43.3 -9.0,47.1M9.0,39.6Q10.6,43.3 9.0,47.1M-9.0,47.1Q0,50.6 9.0,47.1M-9.0,47.1Q-10.6,50.9 -9.0,54.7M9.0,47.1Q10.6,50.9 9.0,54.7M-9.0,54.7Q0,58.2 9.0,54.7M-9.0,54.7Q-10.6,58.5 -9.0,62.2M9.0,54.7Q10.6,58.5 9.0,62.2M-9.0,62.2Q0,65.7 9.0,62.2M-9.0,62.2Q-10.6,64.6 -9.0,67.0M9.0,62.2Q10.6,64.6 9.0,67.0M-9.0,67.0Q0,70.5 9.0,67.0"/></g>
<g transform="translate(196,1297) rotate(-60.3)"><path class="w" stroke="none" d="M-15.5,6.2L-8.4,0L8.4,0L15.5,6.2V22.2L7.5,30.4V168.0H-7.5V30.4L-15.5,22.2Z"/><path d="M-15.5,6.2L-8.4,0L8.4,0L15.5,6.2L8.4,12.4L-8.4,12.4ZM-15.5,6.2V18.2M-8.4,12.4V24.4M8.4,12.4V24.4M15.5,6.2V18.2M-15.5,18.2Q-19.5,19.2 -18.5,23.2Q-15.5,32.4 0,32.4Q15.5,32.4 18.5,23.2Q19.5,19.2 15.5,18.2M-18.5,20.2Q0,30.4 18.5,20.2M-7.5,31.4V100.0M7.5,31.4V100.0M-7.5,100.0Q-9.1,103.2 -7.5,106.3M7.5,100.0Q9.1,103.2 7.5,106.3M-7.5,106.3Q0,109.8 7.5,106.3M-7.5,106.3Q-9.1,109.4 -7.5,112.6M7.5,106.3Q9.1,109.4 7.5,112.6M-7.5,112.6Q0,116.1 7.5,112.6M-7.5,112.6Q-9.1,115.8 -7.5,118.9M7.5,112.6Q9.1,115.8 7.5,118.9M-7.5,118.9Q0,122.4 7.5,118.9M-7.5,118.9Q-9.1,122.0 -7.5,125.2M7.5,118.9Q9.1,122.0 7.5,125.2M-7.5,125.2Q0,128.7 7.5,125.2M-7.5,125.2Q-9.1,128.3 -7.5,131.5M7.5,125.2Q9.1,128.3 7.5,131.5M-7.5,131.5Q0,135.0 7.5,131.5M-7.5,131.5Q-9.1,134.7 -7.5,137.8M7.5,131.5Q9.1,134.7 7.5,137.8M-7.5,137.8Q0,141.3 7.5,137.8M-7.5,137.8Q-9.1,141.0 -7.5,144.1M7.5,137.8Q9.1,141.0 7.5,144.1M-7.5,144.1Q0,147.6 7.5,144.1M-7.5,144.1Q-9.1,147.3 -7.5,150.4M7.5,144.1Q9.1,147.3 7.5,150.4M-7.5,150.4Q0,153.9 7.5,150.4M-7.5,150.4Q-9.1,153.6 -7.5,156.7M7.5,150.4Q9.1,153.6 7.5,156.7M-7.5,156.7Q0,160.2 7.5,156.7M-7.5,156.7Q-9.1,159.9 -7.5,163.0M7.5,156.7Q9.1,159.9 7.5,163.0M-7.5,163.0Q0,166.5 7.5,163.0M-7.5,163.0Q-9.1,165.5 -7.5,168.0M7.5,163.0Q9.1,165.5 7.5,168.0M-7.5,168.0Q0,171.5 7.5,168.0"/></g>
<g transform="translate(1272,553.5) rotate(60.0)"><path class="w" stroke="none" d="M-12.5,5.0L-6.8,0L6.8,0L12.5,5.0V18.0L7.0,25.0V53.0H-7.0V25.0L-12.5,18.0Z"/><path d="M-12.5,5.0L-6.8,0L6.8,0L12.5,5.0L6.8,10.0L-6.8,10.0ZM-12.5,5.0V14.0M-6.8,10.0V19.0M6.8,10.0V19.0M12.5,5.0V14.0M-12.5,14.0Q-16.5,15.0 -15.5,19.0Q-12.5,27.0 0,27.0Q12.5,27.0 15.5,19.0Q16.5,15.0 12.5,14.0M-15.5,16.0Q0,25.0 15.5,16.0M-7.0,26.0V26.0M7.0,26.0V26.0M-7.0,26.0Q-8.6,28.9 -7.0,31.9M7.0,26.0Q8.6,28.9 7.0,31.9M-7.0,31.9Q0,35.4 7.0,31.9M-7.0,31.9Q-8.6,34.8 -7.0,37.8M7.0,31.9Q8.6,34.8 7.0,37.8M-7.0,37.8Q0,41.3 7.0,37.8M-7.0,37.8Q-8.6,40.7 -7.0,43.6M7.0,37.8Q8.6,40.7 7.0,43.6M-7.0,43.6Q0,47.1 7.0,43.6M-7.0,43.6Q-8.6,46.6 -7.0,49.5M7.0,43.6Q8.6,46.6 7.0,49.5M-7.0,49.5Q0,53.0 7.0,49.5M-7.0,49.5Q-8.6,51.3 -7.0,53.0M7.0,49.5Q8.6,51.3 7.0,53.0M-7.0,53.0Q0,56.5 7.0,53.0"/></g>
<g transform="translate(1401,749.5) rotate(60.0)"><path class="w" stroke="none" d="M-12.5,5.0L-6.8,0L6.8,0L12.5,5.0V18.0L7.0,25.0V53.0H-7.0V25.0L-12.5,18.0Z"/><path d="M-12.5,5.0L-6.8,0L6.8,0L12.5,5.0L6.8,10.0L-6.8,10.0ZM-12.5,5.0V14.0M-6.8,10.0V19.0M6.8,10.0V19.0M12.5,5.0V14.0M-12.5,14.0Q-16.5,15.0 -15.5,19.0Q-12.5,27.0 0,27.0Q12.5,27.0 15.5,19.0Q16.5,15.0 12.5,14.0M-15.5,16.0Q0,25.0 15.5,16.0M-7.0,26.0V26.0M7.0,26.0V26.0M-7.0,26.0Q-8.6,28.9 -7.0,31.9M7.0,26.0Q8.6,28.9 7.0,31.9M-7.0,31.9Q0,35.4 7.0,31.9M-7.0,31.9Q-8.6,34.8 -7.0,37.8M7.0,31.9Q8.6,34.8 7.0,37.8M-7.0,37.8Q0,41.3 7.0,37.8M-7.0,37.8Q-8.6,40.7 -7.0,43.6M7.0,37.8Q8.6,40.7 7.0,43.6M-7.0,43.6Q0,47.1 7.0,43.6M-7.0,43.6Q-8.6,46.6 -7.0,49.5M7.0,43.6Q8.6,46.6 7.0,49.5M-7.0,49.5Q0,53.0 7.0,49.5M-7.0,49.5Q-8.6,51.3 -7.0,53.0M7.0,49.5Q8.6,51.3 7.0,53.0M-7.0,53.0Q0,56.5 7.0,53.0"/></g>
<g transform="translate(1702,1660) rotate(117.7)"><path class="w" stroke="none" d="M-12.5,5.0L-6.8,0L6.8,0L12.5,5.0V18.0L7.0,25.0V54.0H-7.0V25.0L-12.5,18.0Z"/><path d="M-12.5,5.0L-6.8,0L6.8,0L12.5,5.0L6.8,10.0L-6.8,10.0ZM-12.5,5.0V14.0M-6.8,10.0V19.0M6.8,10.0V19.0M12.5,5.0V14.0M-12.5,14.0Q-16.5,15.0 -15.5,19.0Q-12.5,27.0 0,27.0Q12.5,27.0 15.5,19.0Q16.5,15.0 12.5,14.0M-15.5,16.0Q0,25.0 15.5,16.0M-7.0,26.0V26.0M7.0,26.0V26.0M-7.0,26.0Q-8.6,28.9 -7.0,31.9M7.0,26.0Q8.6,28.9 7.0,31.9M-7.0,31.9Q0,35.4 7.0,31.9M-7.0,31.9Q-8.6,34.8 -7.0,37.8M7.0,31.9Q8.6,34.8 7.0,37.8M-7.0,37.8Q0,41.3 7.0,37.8M-7.0,37.8Q-8.6,40.7 -7.0,43.6M7.0,37.8Q8.6,40.7 7.0,43.6M-7.0,43.6Q0,47.1 7.0,43.6M-7.0,43.6Q-8.6,46.6 -7.0,49.5M7.0,43.6Q8.6,46.6 7.0,49.5M-7.0,49.5Q0,53.0 7.0,49.5M-7.0,49.5Q-8.6,51.8 -7.0,54.0M7.0,49.5Q8.6,51.8 7.0,54.0M-7.0,54.0Q0,57.5 7.0,54.0"/></g>
</g>
<g class="k" id="s15" transform="translate(623,330.6) rotate(29.9)">
<ellipse cx="3.5" cy="0" rx="3.5" ry="7.5"/>
<ellipse class="w" cx="50" cy="0" rx="11.5" ry="24.5"/>
<path d="M3,-7.5H26M3,7.5H26M10,-7.5Q5,0 10,7.5M16,-7.5Q11,0 16,7.5M22,-7.5Q17,0 22,7.5M25,-14L25,14L34,17L42,13L42,-13L34,-17ZM34,-17V17M57,-10.5Q47,0 57,10.5M57,-10.5H198M57,10.5H198M104,-10.5Q97,0 104,10.5M113.3,-10.5Q106.3,0 113.3,10.5M122.6,-10.5Q115.6,0 122.6,10.5M131.9,-10.5Q124.9,0 131.9,10.5M141.20000000000002,-10.5Q134.20000000000002,0 141.20000000000002,10.5M150.50000000000003,-10.5Q143.50000000000003,0 150.50000000000003,10.5M159.80000000000004,-10.5Q152.80000000000004,0 159.80000000000004,10.5M169.10000000000005,-10.5Q162.10000000000005,0 169.10000000000005,10.5M178.40000000000006,-10.5Q171.40000000000006,0 178.40000000000006,10.5M187.70000000000007,-10.5Q180.70000000000007,0 187.70000000000007,10.5"/>
<ellipse cx="198" cy="0" rx="5.5" ry="10.5" class="w"/>
</g>
<path d="M487,1119 L525,1119 L530,1122 L605,1122 L625,1132 L660,1155 L680,1180 L700,1212 L710,1245 L716,1257 L716,1435 L705,1460 L680,1490 L640,1515 L495,1515 L475,1515 L440,1510 L422,1503 L403,1495 L391,1485 L379,1468 L370,1438 L370,1340 L380,1318 L395,1290 L410,1260 L425,1228 L440,1180 L450,1150 L470,1127 Z" fill="none" stroke="#e01f2c" stroke-width="2.9" stroke-linejoin="round"/>
<g id="labels" fill="none" stroke="#0b0b0b" stroke-width="3.3" stroke-linecap="butt" stroke-linejoin="round">
<path transform="translate(657.1,110.1)" d="M0,1.6 H6.6 M6.6,0 V27.25"/>
<path transform="translate(679.4,110.1)" d="M8.0,0 C15.68,0 15.68,11.6 8.0,11.6 C0.32,11.6 0.32,0 8.0,0 Z M8.0,11.6 C17.92,11.6 17.92,25.6 8.0,25.6 C-1.92,25.6 -1.92,11.6 8.0,11.6 Z"/>
<path transform="translate(466.6,116.1)" d="M0,1.6 H6.6 M6.6,0 V27.25"/>
<path transform="translate(487.4,116.1)" d="M11.52,-0.8 L3.2,11.6 C-4.4,27.0 20.4,27.0 13.12,12.4 C10.4,8.6 6,8.2 3.2,11.6"/>
<path transform="translate(314.6,175.8)" d="M0,1.6 H6.6 M6.6,0 V27.25"/>
<path transform="translate(334.4,175.8)" d="M0,0 H15.5 L4.8,27.25"/>
<path transform="translate(704.1,275.2)" d="M0,1.6 H6.6 M6.6,0 V27.25"/>
<path transform="translate(724.4,275.2)" d="M14.5,0 H4 L2.2,11.4 C4.5,9.4 7,8.8 9,8.8 C18.6,8.8 18.6,25.6 8,25.6 C4,25.6 1.2,23.5 0,20.8"/>
<path transform="translate(81.7,468.8)" d="M0.8,7.6 C0.8,-2.2 15.2,-2.2 15.2,7.2 C15.2,11 11.2,14 8.8,16 L1.2,25.6 H16.0"/>
<path transform="translate(103.3,468.8)" d="M12.48,27.25 V0.8 L0.6,18.944 H17.0"/>
<path transform="translate(120.7,583.8)" d="M0.8,7.6 C0.8,-2.2 15.2,-2.2 15.2,7.2 C15.2,11 11.2,14 8.8,16 L1.2,25.6 H16.0"/>
<path transform="translate(143.3,583.8)" d="M1,5.2 C2.5,-1.8 14.0,-1.8 14.0,6.2 C14.0,10.6 11.2,12 6.72,12 C12.8,12 15.5,14.5 15.5,18.8 C15.5,28.0 1.5,28.0 0,19.5"/>
<path transform="translate(75.7,718.8)" d="M0.8,7.6 C0.8,-2.2 15.2,-2.2 15.2,7.2 C15.2,11 11.2,14 8.8,16 L1.2,25.6 H16.0"/>
<path transform="translate(99.3,718.8)" d="M0.8,7.6 C0.8,-2.2 15.2,-2.2 15.2,7.2 C15.2,11 11.2,14 8.8,16 L1.2,25.6 H16.0"/>
<path transform="translate(383.6,647.2)" d="M0,1.6 H6.6 M6.6,0 V27.25"/>
<path transform="translate(401.9,647.2)" d="M12.48,27.25 V0.8 L0.6,18.944 H17.0"/>
<path transform="translate(596.6,785.2)" d="M0,1.6 H6.6 M6.6,0 V27.25"/>
<path transform="translate(613.4,785.2)" d="M1,5.2 C2.5,-1.8 14.0,-1.8 14.0,6.2 C14.0,10.6 11.2,12 6.72,12 C12.8,12 15.5,14.5 15.5,18.8 C15.5,28.0 1.5,28.0 0,19.5"/>
<path transform="translate(1249.0,462.8)" d="M0,0 H15.5 L4.8,27.25"/>
<path transform="translate(1336.5,542.2)" d="M11.52,-0.8 L3.2,11.6 C-4.4,27.0 20.4,27.0 13.12,12.4 C10.4,8.6 6,8.2 3.2,11.6"/>
<path transform="translate(1489.7,559.8)" d="M0,1.6 H6.6 M6.6,0 V27.25"/>
<path transform="translate(1509.3,559.8)" d="M0.8,7.6 C0.8,-2.2 15.2,-2.2 15.2,7.2 C15.2,11 11.2,14 8.8,16 L1.2,25.6 H16.0"/>
<path transform="translate(1376.0,818.2)" d="M8.0,0 C15.68,0 15.68,11.6 8.0,11.6 C0.32,11.6 0.32,0 8.0,0 Z M8.0,11.6 C17.92,11.6 17.92,25.6 8.0,25.6 C-1.92,25.6 -1.92,11.6 8.0,11.6 Z"/>
<path transform="translate(435.8,1131.8)" d="M0.8,7.6 C0.8,-2.2 15.2,-2.2 15.2,7.2 C15.2,11 11.2,14 8.8,16 L1.2,25.6 H16.0"/>
<path transform="translate(260.0,1235.2)" d="M1,5.2 C2.5,-1.8 14.0,-1.8 14.0,6.2 C14.0,10.6 11.2,12 6.72,12 C12.8,12 15.5,14.5 15.5,18.8 C15.5,28.0 1.5,28.0 0,19.5"/>
<path transform="translate(596.0,1424.8)" d="M0,1.6 H6.6 M6.6,0 V27.25"/>
<path transform="translate(698.6,1390.2)" d="M0,1.6 H6.6 M6.6,0 V27.25"/>
<path transform="translate(717.4,1390.2)" d="M8.0,0 C16.8,0 16.8,25.6 8.0,25.6 C-0.8,25.6 -0.8,0 8.0,0 Z"/>
<path transform="translate(292.2,1552.8)" d="M12.48,27.25 V0.8 L0.6,18.944 H17.0"/>
<path transform="translate(1076.0,1384.2)" d="M4.8,26.6 L12.8,14 C20.4,-1.4 -4.4,-1.4 2.88,13.2 C5.6,17 10.0,17.4 12.8,14"/>
<path transform="translate(1668.7,1558.2)" d="M0.8,7.6 C0.8,-2.2 15.2,-2.2 15.2,7.2 C15.2,11 11.2,14 8.8,16 L1.2,25.6 H16.0"/>
<path transform="translate(1692.3,1558.2)" d="M8.0,0 C16.8,0 16.8,25.6 8.0,25.6 C-0.8,25.6 -0.8,0 8.0,0 Z"/>
<path transform="translate(1429.7,1756.8)" d="M0.8,7.6 C0.8,-2.2 15.2,-2.2 15.2,7.2 C15.2,11 11.2,14 8.8,16 L1.2,25.6 H16.0"/>
<path transform="translate(1456.8,1756.8)" d="M0,1.6 H6.6 M6.6,0 V27.25"/>
<path transform="translate(1578.7,1791.2)" d="M0,1.6 H6.6 M6.6,0 V27.25"/>
<path transform="translate(1598.3,1791.2)" d="M4.8,26.6 L12.8,14 C20.4,-1.4 -4.4,-1.4 2.88,13.2 C5.6,17 10.0,17.4 12.8,14"/>
<path transform="translate(718.6,2139.8)" d="M0,1.6 H6.6 M6.6,0 V27.25"/>
<path transform="translate(741.8,2139.8)" d="M0,1.6 H6.6 M6.6,0 V27.25"/>
<path transform="translate(389.5,2501.2)" d="M14.5,0 H4 L2.2,11.4 C4.5,9.4 7,8.8 9,8.8 C18.6,8.8 18.6,25.6 8,25.6 C4,25.6 1.2,23.5 0,20.8"/>
</g>
<g class="k" id="leaders">
<path d="M600,122H645 M485,158V200 M329,215V250 M719.5,315V359 M131,481H162 M170,596H200 M126,730H157 M400,590V635 M612,730V772 M1255,500V540 M1344,580V625 M1440,571H1479 M1384,780V807 M443,1170V1215 M268,1276V1317 M601,1375V1412 M744,1403H775 M317,1566H362 M1025,1396H1062 M1688,1595V1634 M1473,1769H1509 M1596,1737V1778 M762,2153H815 M397,2445V2487"/>
</g>
<g fill="#0b0b0b" stroke="none"><circle cx="1239" cy="208" r="1.6"/><circle cx="1208" cy="1241" r="1.8"/><path d="M22,1685l5,-5l1,1l-5,5z"/></g>

</svg>
</body></html>
